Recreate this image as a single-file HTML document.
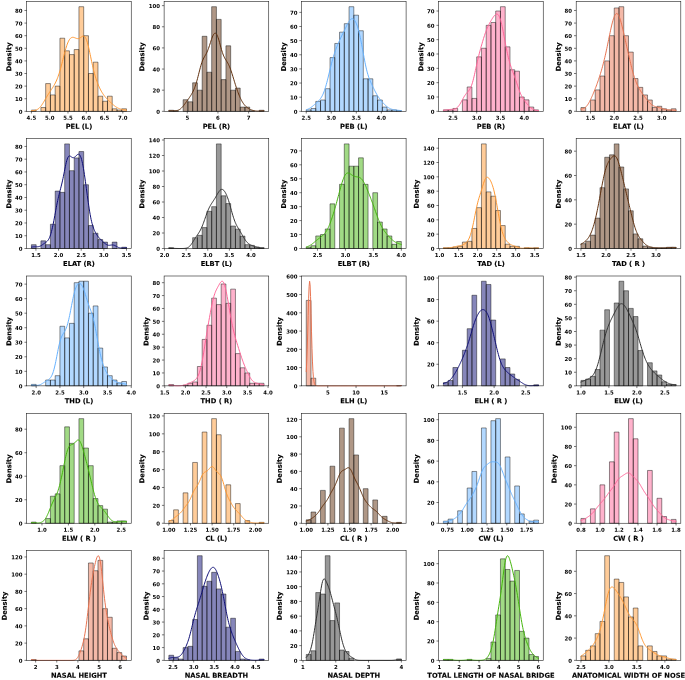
<!DOCTYPE html>
<html lang="en"><head><meta charset="utf-8"><title>Distribution plots</title>
<style>html,body{margin:0;padding:0;background:#fff}body{width:685px;height:680px;overflow:hidden}</style></head>
<body>
<svg width="685" height="680" viewBox="0 0 685 680" style="display:block" text-rendering="geometricPrecision">
<rect x="0" y="0" width="685" height="680" fill="#fff"/>
<g>
<path d="M31.40 111.32H36.16V110.06H31.40ZM40.91 111.32H45.67V107.54H40.91ZM45.67 111.32H50.42V83.59H45.67ZM50.42 111.32H55.18V94.93H50.42ZM55.18 111.32H59.93V86.11H55.18ZM59.93 111.32H64.69V38.21H59.93ZM64.69 111.32H69.44V50.82H64.69ZM69.44 111.32H74.20V54.60H69.44ZM74.20 111.32H78.95V49.56H74.20ZM78.95 111.32H83.70V6.70H78.95ZM83.70 111.32H88.46V35.69H83.70ZM88.46 111.32H93.21V73.51H88.46ZM93.21 111.32H97.97V62.16H93.21ZM97.97 111.32H102.72V96.19H97.97ZM102.72 111.32H107.48V101.24H102.72ZM107.48 111.32H112.23V96.19H107.48ZM112.23 111.32H116.99V108.80H112.23ZM116.99 111.32H121.74V110.06H116.99ZM121.74 111.32H126.50V108.80H121.74Z" fill="rgb(255,153,51)" fill-opacity="0.5" stroke="#000" stroke-width="0.55" stroke-opacity="0.8"/>
<polyline points="31.40,110.68 31.88,110.66 32.36,110.63 32.84,110.60 33.32,110.56 33.79,110.51 34.27,110.45 34.75,110.37 35.23,110.26 35.71,110.14 36.18,109.98 36.66,109.79 37.14,109.56 37.62,109.29 38.09,108.98 38.57,108.62 39.05,108.22 39.53,107.76 40.01,107.26 40.48,106.71 40.96,106.11 41.44,105.47 41.92,104.78 42.39,104.07 42.87,103.32 43.35,102.54 43.83,101.74 44.31,100.93 44.78,100.11 45.26,99.28 45.74,98.46 46.22,97.64 46.70,96.83 47.17,96.03 47.65,95.25 48.13,94.48 48.61,93.73 49.08,92.99 49.56,92.27 50.04,91.55 50.52,90.84 51.00,90.13 51.47,89.42 51.95,88.70 52.43,87.97 52.91,87.22 53.39,86.44 53.86,85.64 54.34,84.81 54.82,83.94 55.30,83.02 55.77,82.06 56.25,81.04 56.73,79.96 57.21,78.81 57.69,77.60 58.16,76.31 58.64,74.95 59.12,73.50 59.60,71.98 60.08,70.38 60.55,68.70 61.03,66.95 61.51,65.15 61.99,63.30 62.46,61.41 62.94,59.50 63.42,57.58 63.90,55.68 64.38,53.82 64.85,52.00 65.33,50.24 65.81,48.57 66.29,47.00 66.76,45.53 67.24,44.18 67.72,42.94 68.20,41.84 68.68,40.87 69.15,40.02 69.63,39.30 70.11,38.70 70.59,38.22 71.07,37.85 71.54,37.58 72.02,37.40 72.50,37.32 72.98,37.31 73.45,37.36 73.93,37.47 74.41,37.62 74.89,37.80 75.37,37.99 75.84,38.18 76.32,38.35 76.80,38.50 77.28,38.60 77.76,38.64 78.23,38.62 78.71,38.53 79.19,38.38 79.67,38.16 80.14,37.88 80.62,37.56 81.10,37.22 81.58,36.88 82.06,36.57 82.53,36.31 83.01,36.14 83.49,36.09 83.97,36.18 84.45,36.44 84.92,36.89 85.40,37.55 85.88,38.42 86.36,39.52 86.83,40.83 87.31,42.34 87.79,44.05 88.27,45.92 88.75,47.93 89.22,50.05 89.70,52.26 90.18,54.53 90.66,56.81 91.14,59.10 91.61,61.36 92.09,63.58 92.57,65.73 93.05,67.81 93.52,69.80 94.00,71.71 94.48,73.52 94.96,75.24 95.44,76.86 95.91,78.40 96.39,79.86 96.87,81.24 97.35,82.55 97.82,83.79 98.30,84.97 98.78,86.09 99.26,87.15 99.74,88.17 100.21,89.14 100.69,90.06 101.17,90.94 101.65,91.78 102.13,92.58 102.60,93.34 103.08,94.07 103.56,94.76 104.04,95.42 104.51,96.04 104.99,96.64 105.47,97.21 105.95,97.76 106.43,98.29 106.90,98.80 107.38,99.30 107.86,99.78 108.34,100.25 108.82,100.72 109.29,101.17 109.77,101.63 110.25,102.08 110.73,102.52 111.20,102.97 111.68,103.40 112.16,103.84 112.64,104.26 113.12,104.68 113.59,105.09 114.07,105.49 114.55,105.87 115.03,106.24 115.51,106.59 115.98,106.92 116.46,107.23 116.94,107.51 117.42,107.78 117.89,108.02 118.37,108.25 118.85,108.45 119.33,108.63 119.81,108.80 120.28,108.95 120.76,109.09 121.24,109.21 121.72,109.33 122.19,109.43 122.67,109.53 123.15,109.62 123.63,109.72 124.11,109.80 124.58,109.89 125.06,109.98 125.54,110.06 126.02,110.15 126.50,110.24" fill="none" stroke="rgb(255,153,51)" stroke-width="1.0" stroke-linejoin="round" stroke-linecap="round"/>
<rect x="26.65" y="1.47" width="104.60" height="109.85" fill="none" stroke="#000" stroke-opacity="0.88" stroke-width="0.6"/>
<path d="M31.40 111.32v2.2M49.69 111.32v2.2M67.98 111.32v2.2M86.26 111.32v2.2M104.55 111.32v2.2M122.84 111.32v2.2M26.65 111.32h-2.2M26.65 98.72h-2.2M26.65 86.11h-2.2M26.65 73.51h-2.2M26.65 60.90h-2.2M26.65 48.30h-2.2M26.65 35.69h-2.2M26.65 23.09h-2.2M26.65 10.48h-2.2" stroke="#000" stroke-opacity="0.88" stroke-width="0.6" fill="none"/>
<g font-family="'DejaVu Sans','Liberation Sans',sans-serif" font-weight="bold" font-size="5.4" fill="#000" stroke="#000" stroke-width="0">
<text x="31.40" y="119.87" text-anchor="middle" transform="rotate(0.03 31.40 119.87)">4.5</text>
<text x="49.69" y="119.87" text-anchor="middle" transform="rotate(0.03 49.69 119.87)">5.0</text>
<text x="67.98" y="119.87" text-anchor="middle" transform="rotate(0.03 67.98 119.87)">5.5</text>
<text x="86.26" y="119.87" text-anchor="middle" transform="rotate(0.03 86.26 119.87)">6.0</text>
<text x="104.55" y="119.87" text-anchor="middle" transform="rotate(0.03 104.55 119.87)">6.5</text>
<text x="122.84" y="119.87" text-anchor="middle" transform="rotate(0.03 122.84 119.87)">7.0</text>
<text x="22.55" y="113.67" text-anchor="end" transform="rotate(0.03 22.55 113.67)">0</text>
<text x="22.55" y="101.07" text-anchor="end" transform="rotate(0.03 22.55 101.07)">10</text>
<text x="22.55" y="88.46" text-anchor="end" transform="rotate(0.03 22.55 88.46)">20</text>
<text x="22.55" y="75.86" text-anchor="end" transform="rotate(0.03 22.55 75.86)">30</text>
<text x="22.55" y="63.25" text-anchor="end" transform="rotate(0.03 22.55 63.25)">40</text>
<text x="22.55" y="50.65" text-anchor="end" transform="rotate(0.03 22.55 50.65)">50</text>
<text x="22.55" y="38.04" text-anchor="end" transform="rotate(0.03 22.55 38.04)">60</text>
<text x="22.55" y="25.44" text-anchor="end" transform="rotate(0.03 22.55 25.44)">70</text>
<text x="22.55" y="12.83" text-anchor="end" transform="rotate(0.03 22.55 12.83)">80</text>
</g>
<g font-family="'DejaVu Sans','Liberation Sans',sans-serif" font-weight="bold" font-size="6.72" fill="#000" stroke="#000" stroke-width="0.12">
<text x="78.95" y="128.72" text-anchor="middle" transform="rotate(0.03 78.95 128.72)">PEL (L)</text>
<text transform="translate(11.15,56.89) rotate(-89.97)" text-anchor="middle">Density</text>
</g>
</g>
<g>
<path d="M168.87 111.32H173.63V110.26H168.87ZM173.63 111.32H178.38V110.79H173.63ZM183.14 111.32H187.89V99.70H183.14ZM187.89 111.32H192.65V101.81H187.89ZM192.65 111.32H197.40V82.79H192.65ZM197.40 111.32H202.16V90.18H197.40ZM202.16 111.32H206.91V36.29H202.16ZM206.91 111.32H211.67V72.22H206.91ZM211.67 111.32H216.42V6.70H211.67ZM216.42 111.32H221.17V19.38H216.42ZM221.17 111.32H225.93V79.62H221.17ZM225.93 111.32H230.68V45.80H225.93ZM230.68 111.32H235.44V90.18H230.68ZM235.44 111.32H240.19V88.07H235.44ZM240.19 111.32H244.95V107.09H240.19ZM244.95 111.32H249.70V107.09H244.95ZM249.70 111.32H254.46V110.79H249.70ZM259.21 111.32H263.97V110.26H259.21Z" fill="rgb(96,48,14)" fill-opacity="0.5" stroke="#000" stroke-width="0.55" stroke-opacity="0.8"/>
<polyline points="168.87,110.76 169.35,110.75 169.83,110.76 170.31,110.76 170.79,110.78 171.26,110.79 171.74,110.81 172.22,110.83 172.70,110.84 173.18,110.85 173.65,110.86 174.13,110.85 174.61,110.84 175.09,110.82 175.56,110.78 176.04,110.72 176.52,110.65 177.00,110.55 177.48,110.42 177.95,110.27 178.43,110.08 178.91,109.86 179.39,109.60 179.86,109.30 180.34,108.96 180.82,108.58 181.30,108.15 181.78,107.68 182.25,107.18 182.73,106.64 183.21,106.07 183.69,105.47 184.17,104.86 184.64,104.22 185.12,103.58 185.60,102.92 186.08,102.26 186.55,101.59 187.03,100.92 187.51,100.25 187.99,99.57 188.47,98.90 188.94,98.21 189.42,97.52 189.90,96.81 190.38,96.08 190.86,95.33 191.33,94.55 191.81,93.73 192.29,92.87 192.77,91.96 193.24,90.98 193.72,89.94 194.20,88.82 194.68,87.62 195.16,86.32 195.63,84.93 196.11,83.44 196.59,81.85 197.07,80.17 197.55,78.42 198.02,76.59 198.50,74.73 198.98,72.84 199.46,70.95 199.93,69.10 200.41,67.31 200.89,65.61 201.37,64.02 201.85,62.56 202.32,61.23 202.80,60.04 203.28,58.97 203.76,58.01 204.23,57.13 204.71,56.31 205.19,55.51 205.67,54.71 206.15,53.86 206.62,52.94 207.10,51.94 207.58,50.85 208.06,49.65 208.54,48.36 209.01,46.98 209.49,45.54 209.97,44.06 210.45,42.56 210.92,41.08 211.40,39.64 211.88,38.28 212.36,37.02 212.84,35.90 213.31,34.95 213.79,34.17 214.27,33.61 214.75,33.27 215.23,33.17 215.70,33.31 216.18,33.71 216.66,34.35 217.14,35.24 217.61,36.34 218.09,37.65 218.57,39.12 219.05,40.73 219.53,42.43 220.00,44.19 220.48,45.96 220.96,47.71 221.44,49.40 221.92,51.00 222.39,52.50 222.87,53.87 223.35,55.11 223.83,56.24 224.30,57.24 224.78,58.15 225.26,58.99 225.74,59.77 226.22,60.52 226.69,61.27 227.17,62.03 227.65,62.84 228.13,63.71 228.61,64.64 229.08,65.66 229.56,66.77 230.04,67.95 230.52,69.22 230.99,70.57 231.47,71.98 231.95,73.45 232.43,74.97 232.91,76.51 233.38,78.08 233.86,79.66 234.34,81.23 234.82,82.79 235.29,84.32 235.77,85.83 236.25,87.30 236.73,88.74 237.21,90.13 237.68,91.47 238.16,92.76 238.64,94.01 239.12,95.20 239.60,96.34 240.07,97.43 240.55,98.46 241.03,99.44 241.51,100.37 241.98,101.24 242.46,102.05 242.94,102.82 243.42,103.53 243.90,104.19 244.37,104.80 244.85,105.37 245.33,105.89 245.81,106.37 246.29,106.81 246.76,107.22 247.24,107.60 247.72,107.94 248.20,108.27 248.67,108.56 249.15,108.84 249.63,109.10 250.11,109.34 250.59,109.56 251.06,109.76 251.54,109.95 252.02,110.12 252.50,110.28 252.98,110.42 253.45,110.54 253.93,110.65 254.41,110.75 254.89,110.83 255.36,110.90 255.84,110.96 256.32,111.00 256.80,111.03 257.28,111.05 257.75,111.06 258.23,111.06 258.71,111.04 259.19,111.03 259.66,111.00 260.14,110.97 260.62,110.94 261.10,110.91 261.58,110.88 262.05,110.85 262.53,110.82 263.01,110.80 263.49,110.79 263.97,110.79" fill="none" stroke="rgb(96,48,14)" stroke-width="1.0" stroke-linejoin="round" stroke-linecap="round"/>
<rect x="164.12" y="1.47" width="104.60" height="109.85" fill="none" stroke="#000" stroke-opacity="0.88" stroke-width="0.6"/>
<path d="M187.28 111.32v2.2M217.95 111.32v2.2M248.63 111.32v2.2M164.12 111.32h-2.2M164.12 90.18h-2.2M164.12 69.05h-2.2M164.12 47.91h-2.2M164.12 26.78h-2.2M164.12 5.64h-2.2" stroke="#000" stroke-opacity="0.88" stroke-width="0.6" fill="none"/>
<g font-family="'DejaVu Sans','Liberation Sans',sans-serif" font-weight="bold" font-size="5.4" fill="#000" stroke="#000" stroke-width="0">
<text x="187.28" y="119.87" text-anchor="middle" transform="rotate(0.03 187.28 119.87)">5</text>
<text x="217.95" y="119.87" text-anchor="middle" transform="rotate(0.03 217.95 119.87)">6</text>
<text x="248.63" y="119.87" text-anchor="middle" transform="rotate(0.03 248.63 119.87)">7</text>
<text x="160.02" y="113.67" text-anchor="end" transform="rotate(0.03 160.02 113.67)">0</text>
<text x="160.02" y="92.53" text-anchor="end" transform="rotate(0.03 160.02 92.53)">20</text>
<text x="160.02" y="71.40" text-anchor="end" transform="rotate(0.03 160.02 71.40)">40</text>
<text x="160.02" y="50.26" text-anchor="end" transform="rotate(0.03 160.02 50.26)">60</text>
<text x="160.02" y="29.13" text-anchor="end" transform="rotate(0.03 160.02 29.13)">80</text>
<text x="160.02" y="7.99" text-anchor="end" transform="rotate(0.03 160.02 7.99)">100</text>
</g>
<g font-family="'DejaVu Sans','Liberation Sans',sans-serif" font-weight="bold" font-size="6.72" fill="#000" stroke="#000" stroke-width="0.12">
<text x="216.42" y="128.72" text-anchor="middle" transform="rotate(0.03 216.42 128.72)">PEL (R)</text>
<text transform="translate(144.32,56.89) rotate(-89.97)" text-anchor="middle">Density</text>
</g>
</g>
<g>
<path d="M306.25 111.32H311.01V109.91H306.25ZM311.01 111.32H315.76V108.49H311.01ZM315.76 111.32H320.52V101.42H315.76ZM320.52 111.32H325.27V100.01H320.52ZM325.27 111.32H330.03V88.70H325.27ZM330.03 111.32H334.78V57.60H330.03ZM334.78 111.32H339.54V43.46H334.78ZM339.54 111.32H344.29V32.15H339.54ZM344.29 111.32H349.05V23.67H344.29ZM349.05 111.32H353.80V6.70H349.05ZM353.80 111.32H358.55V15.18H353.80ZM358.55 111.32H363.31V30.74H358.55ZM363.31 111.32H368.06V78.80H363.31ZM368.06 111.32H372.82V78.80H368.06ZM372.82 111.32H377.57V95.77H372.82ZM377.57 111.32H382.33V100.01H377.57ZM382.33 111.32H387.08V107.08H382.33ZM387.08 111.32H391.84V109.91H387.08ZM391.84 111.32H396.59V109.91H391.84ZM396.59 111.32H401.35V110.61H396.59Z" fill="rgb(102,178,255)" fill-opacity="0.5" stroke="#000" stroke-width="0.55" stroke-opacity="0.8"/>
<polyline points="306.25,109.79 306.73,109.62 307.21,109.44 307.69,109.25 308.17,109.04 308.64,108.81 309.12,108.57 309.60,108.30 310.08,108.01 310.56,107.71 311.03,107.38 311.51,107.04 311.99,106.68 312.47,106.30 312.94,105.91 313.42,105.51 313.90,105.10 314.38,104.69 314.86,104.27 315.33,103.86 315.81,103.44 316.29,103.02 316.77,102.59 317.24,102.16 317.72,101.71 318.20,101.26 318.68,100.78 319.16,100.27 319.63,99.72 320.11,99.13 320.59,98.49 321.07,97.78 321.55,97.01 322.02,96.17 322.50,95.24 322.98,94.22 323.46,93.10 323.93,91.89 324.41,90.59 324.89,89.18 325.37,87.68 325.85,86.08 326.32,84.39 326.80,82.63 327.28,80.79 327.76,78.90 328.24,76.96 328.71,74.99 329.19,73.01 329.67,71.02 330.15,69.05 330.62,67.10 331.10,65.18 331.58,63.32 332.06,61.50 332.54,59.75 333.01,58.06 333.49,56.43 333.97,54.87 334.45,53.37 334.93,51.93 335.40,50.55 335.88,49.23 336.36,47.95 336.84,46.72 337.31,45.54 337.79,44.39 338.27,43.27 338.75,42.18 339.23,41.12 339.70,40.08 340.18,39.07 340.66,38.06 341.14,37.07 341.61,36.09 342.09,35.12 342.57,34.15 343.05,33.17 343.53,32.20 344.00,31.22 344.48,30.24 344.96,29.25 345.44,28.26 345.92,27.27 346.39,26.29 346.87,25.32 347.35,24.37 347.83,23.46 348.30,22.59 348.78,21.78 349.26,21.04 349.74,20.38 350.22,19.82 350.69,19.35 351.17,19.01 351.65,18.78 352.13,18.68 352.61,18.71 353.08,18.88 353.56,19.18 354.04,19.61 354.52,20.18 354.99,20.88 355.47,21.72 355.95,22.69 356.43,23.79 356.91,25.02 357.38,26.39 357.86,27.89 358.34,29.53 358.82,31.31 359.30,33.22 359.77,35.27 360.25,37.44 360.73,39.73 361.21,42.12 361.68,44.60 362.16,47.16 362.64,49.75 363.12,52.37 363.60,54.99 364.07,57.57 364.55,60.10 365.03,62.54 365.51,64.88 365.99,67.09 366.46,69.17 366.94,71.11 367.42,72.90 367.90,74.56 368.37,76.09 368.85,77.50 369.33,78.80 369.81,80.02 370.29,81.16 370.76,82.25 371.24,83.30 371.72,84.33 372.20,85.33 372.67,86.33 373.15,87.32 373.63,88.29 374.11,89.26 374.59,90.22 375.06,91.17 375.54,92.09 376.02,92.99 376.50,93.86 376.98,94.70 377.45,95.50 377.93,96.27 378.41,97.01 378.89,97.71 379.36,98.39 379.84,99.04 380.32,99.66 380.80,100.26 381.28,100.84 381.75,101.41 382.23,101.96 382.71,102.50 383.19,103.02 383.67,103.54 384.14,104.04 384.62,104.52 385.10,104.99 385.58,105.44 386.05,105.87 386.53,106.28 387.01,106.67 387.49,107.04 387.97,107.38 388.44,107.70 388.92,107.99 389.40,108.26 389.88,108.50 390.36,108.72 390.83,108.92 391.31,109.09 391.79,109.25 392.27,109.39 392.74,109.51 393.22,109.62 393.70,109.71 394.18,109.80 394.66,109.87 395.13,109.94 395.61,110.00 396.09,110.06 396.57,110.12 397.04,110.17 397.52,110.22 398.00,110.27 398.48,110.33 398.96,110.38 399.43,110.43 399.91,110.48 400.39,110.54 400.87,110.59 401.35,110.65" fill="none" stroke="rgb(102,178,255)" stroke-width="1.0" stroke-linejoin="round" stroke-linecap="round"/>
<rect x="301.50" y="1.47" width="104.60" height="109.85" fill="none" stroke="#000" stroke-opacity="0.88" stroke-width="0.6"/>
<path d="M306.25 111.32v2.2M331.28 111.32v2.2M356.30 111.32v2.2M381.33 111.32v2.2M301.50 111.32h-2.2M301.50 97.18h-2.2M301.50 83.04h-2.2M301.50 68.91h-2.2M301.50 54.77h-2.2M301.50 40.63h-2.2M301.50 26.49h-2.2M301.50 12.36h-2.2" stroke="#000" stroke-opacity="0.88" stroke-width="0.6" fill="none"/>
<g font-family="'DejaVu Sans','Liberation Sans',sans-serif" font-weight="bold" font-size="5.4" fill="#000" stroke="#000" stroke-width="0">
<text x="306.25" y="119.87" text-anchor="middle" transform="rotate(0.03 306.25 119.87)">2.5</text>
<text x="331.28" y="119.87" text-anchor="middle" transform="rotate(0.03 331.28 119.87)">3.0</text>
<text x="356.30" y="119.87" text-anchor="middle" transform="rotate(0.03 356.30 119.87)">3.5</text>
<text x="381.33" y="119.87" text-anchor="middle" transform="rotate(0.03 381.33 119.87)">4.0</text>
<text x="297.40" y="113.67" text-anchor="end" transform="rotate(0.03 297.40 113.67)">0</text>
<text x="297.40" y="99.53" text-anchor="end" transform="rotate(0.03 297.40 99.53)">10</text>
<text x="297.40" y="85.39" text-anchor="end" transform="rotate(0.03 297.40 85.39)">20</text>
<text x="297.40" y="71.26" text-anchor="end" transform="rotate(0.03 297.40 71.26)">30</text>
<text x="297.40" y="57.12" text-anchor="end" transform="rotate(0.03 297.40 57.12)">40</text>
<text x="297.40" y="42.98" text-anchor="end" transform="rotate(0.03 297.40 42.98)">50</text>
<text x="297.40" y="28.84" text-anchor="end" transform="rotate(0.03 297.40 28.84)">60</text>
<text x="297.40" y="14.71" text-anchor="end" transform="rotate(0.03 297.40 14.71)">70</text>
</g>
<g font-family="'DejaVu Sans','Liberation Sans',sans-serif" font-weight="bold" font-size="6.72" fill="#000" stroke="#000" stroke-width="0.12">
<text x="353.80" y="128.72" text-anchor="middle" transform="rotate(0.03 353.80 128.72)">PEB (L)</text>
<text transform="translate(286.00,56.89) rotate(-89.97)" text-anchor="middle">Density</text>
</g>
</g>
<g>
<path d="M443.40 111.32H448.16V109.89H443.40ZM448.16 111.32H452.91V109.89H448.16ZM452.91 111.32H457.67V108.45H452.91ZM462.42 111.32H467.18V99.85H462.42ZM467.18 111.32H471.93V86.96H467.18ZM471.93 111.32H476.69V98.42H471.93ZM476.69 111.32H481.44V56.86H476.69ZM481.44 111.32H486.20V48.26H481.44ZM486.20 111.32H490.95V25.33H486.20ZM490.95 111.32H495.70V22.47H490.95ZM495.70 111.32H500.46V11.00H495.70ZM500.46 111.32H505.21V6.70H500.46ZM505.21 111.32H509.97V46.83H505.21ZM509.97 111.32H514.72V69.76H509.97ZM514.72 111.32H519.48V71.19H514.72ZM519.48 111.32H524.23V96.99H519.48ZM524.23 111.32H528.99V99.85H524.23ZM528.99 111.32H533.74V107.02H528.99ZM533.74 111.32H538.50V109.89H533.74Z" fill="rgb(255,102,153)" fill-opacity="0.5" stroke="#000" stroke-width="0.55" stroke-opacity="0.8"/>
<polyline points="443.40,110.23 443.88,110.16 444.36,110.09 444.84,110.03 445.32,109.96 445.79,109.90 446.27,109.84 446.75,109.79 447.23,109.73 447.71,109.68 448.18,109.63 448.66,109.58 449.14,109.53 449.62,109.49 450.09,109.44 450.57,109.41 451.05,109.37 451.53,109.34 452.01,109.30 452.48,109.27 452.96,109.22 453.44,109.16 453.92,109.09 454.39,108.99 454.87,108.86 455.35,108.69 455.83,108.47 456.31,108.21 456.78,107.88 457.26,107.50 457.74,107.05 458.22,106.53 458.70,105.94 459.17,105.30 459.65,104.59 460.13,103.83 460.61,103.02 461.08,102.17 461.56,101.30 462.04,100.42 462.52,99.53 463.00,98.65 463.47,97.79 463.95,96.96 464.43,96.17 464.91,95.42 465.39,94.72 465.86,94.08 466.34,93.48 466.82,92.91 467.30,92.38 467.77,91.85 468.25,91.31 468.73,90.74 469.21,90.10 469.69,89.39 470.16,88.57 470.64,87.63 471.12,86.54 471.60,85.29 472.08,83.89 472.55,82.32 473.03,80.61 473.51,78.75 473.99,76.78 474.46,74.72 474.94,72.58 475.42,70.40 475.90,68.21 476.38,66.02 476.85,63.85 477.33,61.73 477.81,59.65 478.29,57.63 478.76,55.68 479.24,53.78 479.72,51.93 480.20,50.13 480.68,48.38 481.15,46.66 481.63,44.97 482.11,43.31 482.59,41.68 483.07,40.08 483.54,38.51 484.02,36.98 484.50,35.50 484.98,34.06 485.45,32.68 485.93,31.36 486.41,30.10 486.89,28.91 487.37,27.78 487.84,26.71 488.32,25.69 488.80,24.73 489.28,23.80 489.76,22.92 490.23,22.06 490.71,21.22 491.19,20.41 491.67,19.61 492.14,18.83 492.62,18.08 493.10,17.35 493.58,16.66 494.06,16.02 494.53,15.44 495.01,14.93 495.49,14.51 495.97,14.20 496.45,14.02 496.92,13.99 497.40,14.12 497.88,14.44 498.36,14.95 498.83,15.66 499.31,16.60 499.79,17.75 500.27,19.12 500.75,20.71 501.22,22.50 501.70,24.48 502.18,26.63 502.66,28.92 503.14,31.33 503.61,33.82 504.09,36.38 504.57,38.96 505.05,41.54 505.52,44.10 506.00,46.60 506.48,49.03 506.96,51.37 507.44,53.60 507.91,55.73 508.39,57.74 508.87,59.62 509.35,61.40 509.82,63.06 510.30,64.62 510.78,66.10 511.26,67.51 511.74,68.86 512.21,70.17 512.69,71.46 513.17,72.75 513.65,74.05 514.13,75.36 514.60,76.71 515.08,78.08 515.56,79.48 516.04,80.91 516.51,82.35 516.99,83.81 517.47,85.25 517.95,86.69 518.43,88.09 518.90,89.44 519.38,90.75 519.86,91.99 520.34,93.16 520.82,94.27 521.29,95.30 521.77,96.26 522.25,97.15 522.73,97.99 523.20,98.77 523.68,99.51 524.16,100.21 524.64,100.88 525.12,101.52 525.59,102.14 526.07,102.74 526.55,103.33 527.03,103.90 527.51,104.46 527.98,105.01 528.46,105.53 528.94,106.04 529.42,106.52 529.89,106.98 530.37,107.42 530.85,107.82 531.33,108.20 531.81,108.54 532.28,108.85 532.76,109.13 533.24,109.37 533.72,109.58 534.19,109.77 534.67,109.92 535.15,110.05 535.63,110.15 536.11,110.24 536.58,110.31 537.06,110.37 537.54,110.42 538.02,110.47 538.50,110.51" fill="none" stroke="rgb(255,102,153)" stroke-width="1.0" stroke-linejoin="round" stroke-linecap="round"/>
<rect x="438.65" y="1.47" width="104.60" height="109.85" fill="none" stroke="#000" stroke-opacity="0.88" stroke-width="0.6"/>
<path d="M452.91 111.32v2.2M476.69 111.32v2.2M500.46 111.32v2.2M524.23 111.32v2.2M438.65 111.32h-2.2M438.65 96.99h-2.2M438.65 82.66h-2.2M438.65 68.33h-2.2M438.65 53.99h-2.2M438.65 39.66h-2.2M438.65 25.33h-2.2M438.65 11.00h-2.2" stroke="#000" stroke-opacity="0.88" stroke-width="0.6" fill="none"/>
<g font-family="'DejaVu Sans','Liberation Sans',sans-serif" font-weight="bold" font-size="5.4" fill="#000" stroke="#000" stroke-width="0">
<text x="452.91" y="119.87" text-anchor="middle" transform="rotate(0.03 452.91 119.87)">2.5</text>
<text x="476.69" y="119.87" text-anchor="middle" transform="rotate(0.03 476.69 119.87)">3.0</text>
<text x="500.46" y="119.87" text-anchor="middle" transform="rotate(0.03 500.46 119.87)">3.5</text>
<text x="524.23" y="119.87" text-anchor="middle" transform="rotate(0.03 524.23 119.87)">4.0</text>
<text x="434.55" y="113.67" text-anchor="end" transform="rotate(0.03 434.55 113.67)">0</text>
<text x="434.55" y="99.34" text-anchor="end" transform="rotate(0.03 434.55 99.34)">10</text>
<text x="434.55" y="85.01" text-anchor="end" transform="rotate(0.03 434.55 85.01)">20</text>
<text x="434.55" y="70.68" text-anchor="end" transform="rotate(0.03 434.55 70.68)">30</text>
<text x="434.55" y="56.34" text-anchor="end" transform="rotate(0.03 434.55 56.34)">40</text>
<text x="434.55" y="42.01" text-anchor="end" transform="rotate(0.03 434.55 42.01)">50</text>
<text x="434.55" y="27.68" text-anchor="end" transform="rotate(0.03 434.55 27.68)">60</text>
<text x="434.55" y="13.35" text-anchor="end" transform="rotate(0.03 434.55 13.35)">70</text>
</g>
<g font-family="'DejaVu Sans','Liberation Sans',sans-serif" font-weight="bold" font-size="6.72" fill="#000" stroke="#000" stroke-width="0.12">
<text x="490.95" y="128.72" text-anchor="middle" transform="rotate(0.03 490.95 128.72)">PEB (R)</text>
<text transform="translate(423.15,56.89) rotate(-89.97)" text-anchor="middle">Density</text>
</g>
</g>
<g>
<path d="M580.95 111.32H585.71V107.54H580.95ZM590.46 111.32H595.22V99.98H590.46ZM595.22 111.32H599.97V89.89H595.22ZM599.97 111.32H604.73V76.03H599.97ZM604.73 111.32H609.48V60.90H604.73ZM609.48 111.32H614.24V35.69H609.48ZM614.24 111.32H618.99V7.96H614.24ZM618.99 111.32H623.75V6.70H618.99ZM623.75 111.32H628.50V35.69H623.75ZM628.50 111.32H633.25V52.08H628.50ZM633.25 111.32H638.01V78.55H633.25ZM638.01 111.32H642.76V87.37H638.01ZM642.76 111.32H647.52V94.93H642.76ZM647.52 111.32H652.27V99.98H647.52ZM652.27 111.32H657.03V107.54H652.27ZM657.03 111.32H661.78V106.28H657.03ZM661.78 111.32H666.54V108.80H661.78ZM666.54 111.32H671.29V110.06H666.54ZM671.29 111.32H676.05V108.80H671.29Z" fill="rgb(233,116,81)" fill-opacity="0.5" stroke="#000" stroke-width="0.55" stroke-opacity="0.8"/>
<polyline points="580.95,109.19 581.43,109.09 581.91,108.98 582.39,108.86 582.87,108.73 583.34,108.57 583.82,108.37 584.30,108.13 584.78,107.84 585.26,107.49 585.73,107.08 586.21,106.61 586.69,106.07 587.17,105.47 587.64,104.80 588.12,104.07 588.60,103.28 589.08,102.44 589.56,101.56 590.03,100.63 590.51,99.67 590.99,98.67 591.47,97.64 591.94,96.59 592.42,95.51 592.90,94.41 593.38,93.29 593.86,92.14 594.33,90.97 594.81,89.78 595.29,88.56 595.77,87.32 596.25,86.06 596.72,84.77 597.20,83.45 597.68,82.10 598.16,80.73 598.63,79.32 599.11,77.89 599.59,76.42 600.07,74.92 600.55,73.37 601.02,71.79 601.50,70.17 601.98,68.49 602.46,66.77 602.94,64.99 603.41,63.16 603.89,61.27 604.37,59.32 604.85,57.31 605.32,55.24 605.80,53.11 606.28,50.93 606.76,48.70 607.24,46.43 607.71,44.12 608.19,41.79 608.67,39.45 609.15,37.11 609.63,34.79 610.10,32.50 610.58,30.25 611.06,28.07 611.54,25.98 612.01,23.99 612.49,22.12 612.97,20.40 613.45,18.84 613.93,17.45 614.40,16.26 614.88,15.27 615.36,14.50 615.84,13.95 616.31,13.63 616.79,13.55 617.27,13.70 617.75,14.08 618.23,14.69 618.70,15.52 619.18,16.54 619.66,17.76 620.14,19.15 620.62,20.70 621.09,22.38 621.57,24.17 622.05,26.05 622.53,28.01 623.00,30.03 623.48,32.08 623.96,34.16 624.44,36.26 624.92,38.36 625.39,40.47 625.87,42.58 626.35,44.69 626.83,46.79 627.31,48.90 627.78,51.00 628.26,53.10 628.74,55.20 629.22,57.28 629.69,59.36 630.17,61.41 630.65,63.44 631.13,65.42 631.61,67.36 632.08,69.25 632.56,71.07 633.04,72.82 633.52,74.49 634.00,76.08 634.47,77.59 634.95,79.01 635.43,80.35 635.91,81.62 636.38,82.81 636.86,83.93 637.34,84.99 637.82,85.99 638.30,86.94 638.77,87.85 639.25,88.72 639.73,89.55 640.21,90.34 640.69,91.11 641.16,91.86 641.64,92.58 642.12,93.28 642.60,93.97 643.07,94.63 643.55,95.29 644.03,95.93 644.51,96.56 644.99,97.19 645.46,97.80 645.94,98.41 646.42,99.02 646.90,99.61 647.37,100.20 647.85,100.77 648.33,101.34 648.81,101.89 649.29,102.42 649.76,102.93 650.24,103.41 650.72,103.87 651.20,104.29 651.68,104.68 652.15,105.03 652.63,105.35 653.11,105.64 653.59,105.89 654.06,106.12 654.54,106.31 655.02,106.49 655.50,106.65 655.98,106.79 656.45,106.93 656.93,107.06 657.41,107.19 657.89,107.32 658.37,107.45 658.84,107.59 659.32,107.73 659.80,107.87 660.28,108.02 660.75,108.17 661.23,108.32 661.71,108.47 662.19,108.61 662.67,108.75 663.14,108.89 663.62,109.01 664.10,109.13 664.58,109.24 665.06,109.34 665.53,109.43 666.01,109.52 666.49,109.59 666.97,109.65 667.44,109.71 667.92,109.76 668.40,109.80 668.88,109.84 669.36,109.87 669.83,109.90 670.31,109.93 670.79,109.96 671.27,109.99 671.74,110.02 672.22,110.06 672.70,110.10 673.18,110.14 673.66,110.18 674.13,110.23 674.61,110.28 675.09,110.34 675.57,110.40 676.05,110.46" fill="none" stroke="rgb(233,116,81)" stroke-width="1.0" stroke-linejoin="round" stroke-linecap="round"/>
<rect x="576.20" y="1.47" width="104.60" height="109.85" fill="none" stroke="#000" stroke-opacity="0.88" stroke-width="0.6"/>
<path d="M590.46 111.32v2.2M614.24 111.32v2.2M638.01 111.32v2.2M661.78 111.32v2.2M576.20 111.32h-2.2M576.20 98.72h-2.2M576.20 86.11h-2.2M576.20 73.51h-2.2M576.20 60.90h-2.2M576.20 48.30h-2.2M576.20 35.69h-2.2M576.20 23.09h-2.2M576.20 10.48h-2.2" stroke="#000" stroke-opacity="0.88" stroke-width="0.6" fill="none"/>
<g font-family="'DejaVu Sans','Liberation Sans',sans-serif" font-weight="bold" font-size="5.4" fill="#000" stroke="#000" stroke-width="0">
<text x="590.46" y="119.87" text-anchor="middle" transform="rotate(0.03 590.46 119.87)">1.5</text>
<text x="614.24" y="119.87" text-anchor="middle" transform="rotate(0.03 614.24 119.87)">2.0</text>
<text x="638.01" y="119.87" text-anchor="middle" transform="rotate(0.03 638.01 119.87)">2.5</text>
<text x="661.78" y="119.87" text-anchor="middle" transform="rotate(0.03 661.78 119.87)">3.0</text>
<text x="572.10" y="113.67" text-anchor="end" transform="rotate(0.03 572.10 113.67)">0</text>
<text x="572.10" y="101.07" text-anchor="end" transform="rotate(0.03 572.10 101.07)">10</text>
<text x="572.10" y="88.46" text-anchor="end" transform="rotate(0.03 572.10 88.46)">20</text>
<text x="572.10" y="75.86" text-anchor="end" transform="rotate(0.03 572.10 75.86)">30</text>
<text x="572.10" y="63.25" text-anchor="end" transform="rotate(0.03 572.10 63.25)">40</text>
<text x="572.10" y="50.65" text-anchor="end" transform="rotate(0.03 572.10 50.65)">50</text>
<text x="572.10" y="38.04" text-anchor="end" transform="rotate(0.03 572.10 38.04)">60</text>
<text x="572.10" y="25.44" text-anchor="end" transform="rotate(0.03 572.10 25.44)">70</text>
<text x="572.10" y="12.83" text-anchor="end" transform="rotate(0.03 572.10 12.83)">80</text>
</g>
<g font-family="'DejaVu Sans','Liberation Sans',sans-serif" font-weight="bold" font-size="6.72" fill="#000" stroke="#000" stroke-width="0.12">
<text x="628.50" y="128.72" text-anchor="middle" transform="rotate(0.03 628.50 128.72)">ELAT (L)</text>
<text transform="translate(560.70,56.89) rotate(-89.97)" text-anchor="middle">Density</text>
</g>
</g>
<g>
<path d="M31.40 248.50H36.16V244.67H31.40ZM40.91 248.50H45.67V240.84H40.91ZM45.67 248.50H50.42V244.67H45.67ZM50.42 248.50H55.18V224.26H50.42ZM55.18 248.50H59.93V191.09H55.18ZM59.93 248.50H64.69V192.36H59.93ZM64.69 248.50H69.44V143.88H64.69ZM69.44 248.50H74.20V170.67H69.44ZM74.20 248.50H78.95V157.92H74.20ZM78.95 248.50H83.70V151.54H78.95ZM83.70 248.50H88.46V184.71H83.70ZM88.46 248.50H93.21V225.53H88.46ZM93.21 248.50H97.97V233.19H93.21ZM97.97 248.50H102.72V239.57H97.97ZM102.72 248.50H107.48V242.12H102.72ZM112.23 248.50H116.99V242.12H112.23ZM121.74 248.50H126.50V247.22H121.74Z" fill="rgb(14,14,118)" fill-opacity="0.5" stroke="#000" stroke-width="0.55" stroke-opacity="0.8"/>
<polyline points="31.40,247.13 31.88,247.04 32.36,246.96 32.84,246.90 33.32,246.85 33.79,246.81 34.27,246.78 34.75,246.76 35.23,246.76 35.71,246.76 36.18,246.77 36.66,246.77 37.14,246.77 37.62,246.75 38.09,246.70 38.57,246.64 39.05,246.53 39.53,246.39 40.01,246.21 40.48,245.99 40.96,245.74 41.44,245.44 41.92,245.13 42.39,244.79 42.87,244.44 43.35,244.09 43.83,243.75 44.31,243.41 44.78,243.08 45.26,242.75 45.74,242.42 46.22,242.07 46.70,241.68 47.17,241.24 47.65,240.72 48.13,240.11 48.61,239.37 49.08,238.50 49.56,237.47 50.04,236.26 50.52,234.89 51.00,233.33 51.47,231.59 51.95,229.68 52.43,227.61 52.91,225.39 53.39,223.04 53.86,220.59 54.34,218.07 54.82,215.49 55.30,212.89 55.77,210.29 56.25,207.74 56.73,205.25 57.21,202.85 57.69,200.56 58.16,198.38 58.64,196.30 59.12,194.33 59.60,192.43 60.08,190.58 60.55,188.75 61.03,186.89 61.51,184.98 61.99,182.99 62.46,180.88 62.94,178.67 63.42,176.36 63.90,173.96 64.38,171.52 64.85,169.08 65.33,166.70 65.81,164.45 66.29,162.39 66.76,160.57 67.24,159.03 67.72,157.80 68.20,156.90 68.68,156.30 69.15,156.00 69.63,155.94 70.11,156.07 70.59,156.33 71.07,156.67 71.54,157.02 72.02,157.33 72.50,157.57 72.98,157.70 73.45,157.70 73.93,157.58 74.41,157.34 74.89,156.99 75.37,156.56 75.84,156.08 76.32,155.59 76.80,155.13 77.28,154.72 77.76,154.42 78.23,154.25 78.71,154.26 79.19,154.47 79.67,154.91 80.14,155.62 80.62,156.60 81.10,157.87 81.58,159.45 82.06,161.32 82.53,163.48 83.01,165.92 83.49,168.61 83.97,171.52 84.45,174.64 84.92,177.93 85.40,181.34 85.88,184.85 86.36,188.42 86.83,192.01 87.31,195.58 87.79,199.09 88.27,202.50 88.75,205.79 89.22,208.92 89.70,211.87 90.18,214.62 90.66,217.16 91.14,219.49 91.61,221.60 92.09,223.51 92.57,225.23 93.05,226.77 93.52,228.15 94.00,229.40 94.48,230.52 94.96,231.55 95.44,232.48 95.91,233.34 96.39,234.14 96.87,234.88 97.35,235.58 97.82,236.24 98.30,236.85 98.78,237.44 99.26,238.00 99.74,238.53 100.21,239.04 100.69,239.52 101.17,240.00 101.65,240.46 102.13,240.92 102.60,241.37 103.08,241.81 103.56,242.25 104.04,242.68 104.51,243.09 104.99,243.49 105.47,243.87 105.95,244.21 106.43,244.52 106.90,244.78 107.38,244.99 107.86,245.14 108.34,245.24 108.82,245.29 109.29,245.30 109.77,245.26 110.25,245.20 110.73,245.13 111.20,245.06 111.68,245.00 112.16,244.97 112.64,244.97 113.12,245.01 113.59,245.11 114.07,245.24 114.55,245.42 115.03,245.64 115.51,245.88 115.98,246.14 116.46,246.41 116.94,246.68 117.42,246.93 117.89,247.17 118.37,247.38 118.85,247.57 119.33,247.72 119.81,247.85 120.28,247.94 120.76,248.00 121.24,248.04 121.72,248.05 122.19,248.05 122.67,248.03 123.15,248.00 123.63,247.97 124.11,247.93 124.58,247.90 125.06,247.87 125.54,247.84 126.02,247.83 126.50,247.82" fill="none" stroke="rgb(14,14,118)" stroke-width="1.0" stroke-linejoin="round" stroke-linecap="round"/>
<rect x="26.65" y="138.65" width="104.60" height="109.85" fill="none" stroke="#000" stroke-opacity="0.88" stroke-width="0.6"/>
<path d="M35.93 248.50v2.2M58.57 248.50v2.2M81.21 248.50v2.2M103.85 248.50v2.2M126.50 248.50v2.2M26.65 248.50h-2.2M26.65 235.74h-2.2M26.65 222.98h-2.2M26.65 210.22h-2.2M26.65 197.47h-2.2M26.65 184.71h-2.2M26.65 171.95h-2.2M26.65 159.19h-2.2M26.65 146.43h-2.2" stroke="#000" stroke-opacity="0.88" stroke-width="0.6" fill="none"/>
<g font-family="'DejaVu Sans','Liberation Sans',sans-serif" font-weight="bold" font-size="5.4" fill="#000" stroke="#000" stroke-width="0">
<text x="35.93" y="257.05" text-anchor="middle" transform="rotate(0.03 35.93 257.05)">1.5</text>
<text x="58.57" y="257.05" text-anchor="middle" transform="rotate(0.03 58.57 257.05)">2.0</text>
<text x="81.21" y="257.05" text-anchor="middle" transform="rotate(0.03 81.21 257.05)">2.5</text>
<text x="103.85" y="257.05" text-anchor="middle" transform="rotate(0.03 103.85 257.05)">3.0</text>
<text x="126.50" y="257.05" text-anchor="middle" transform="rotate(0.03 126.50 257.05)">3.5</text>
<text x="22.55" y="250.85" text-anchor="end" transform="rotate(0.03 22.55 250.85)">0</text>
<text x="22.55" y="238.09" text-anchor="end" transform="rotate(0.03 22.55 238.09)">10</text>
<text x="22.55" y="225.33" text-anchor="end" transform="rotate(0.03 22.55 225.33)">20</text>
<text x="22.55" y="212.57" text-anchor="end" transform="rotate(0.03 22.55 212.57)">30</text>
<text x="22.55" y="199.82" text-anchor="end" transform="rotate(0.03 22.55 199.82)">40</text>
<text x="22.55" y="187.06" text-anchor="end" transform="rotate(0.03 22.55 187.06)">50</text>
<text x="22.55" y="174.30" text-anchor="end" transform="rotate(0.03 22.55 174.30)">60</text>
<text x="22.55" y="161.54" text-anchor="end" transform="rotate(0.03 22.55 161.54)">70</text>
<text x="22.55" y="148.78" text-anchor="end" transform="rotate(0.03 22.55 148.78)">80</text>
</g>
<g font-family="'DejaVu Sans','Liberation Sans',sans-serif" font-weight="bold" font-size="6.72" fill="#000" stroke="#000" stroke-width="0.12">
<text x="78.95" y="265.90" text-anchor="middle" transform="rotate(0.03 78.95 265.90)">ELAT (R)</text>
<text transform="translate(11.15,194.07) rotate(-89.97)" text-anchor="middle">Density</text>
</g>
</g>
<g>
<path d="M168.87 248.50H173.63V247.73H168.87ZM192.65 248.50H197.40V237.65H192.65ZM197.40 248.50H202.16V235.33H197.40ZM202.16 248.50H206.91V227.58H202.16ZM206.91 248.50H211.67V211.30H206.91ZM211.67 248.50H216.42V206.65H211.67ZM216.42 248.50H221.17V143.88H216.42ZM221.17 248.50H225.93V195.80H221.17ZM225.93 248.50H230.68V203.55H225.93ZM230.68 248.50H235.44V226.03H230.68ZM235.44 248.50H240.19V229.13H235.44ZM240.19 248.50H244.95V236.10H240.19ZM244.95 248.50H249.70V244.63H244.95ZM249.70 248.50H254.46V245.40H249.70ZM254.46 248.50H259.21V246.95H254.46ZM259.21 248.50H263.97V247.73H259.21Z" fill="rgb(50,50,50)" fill-opacity="0.5" stroke="#000" stroke-width="0.55" stroke-opacity="0.8"/>
<polyline points="168.87,248.09 169.35,248.09 169.83,248.10 170.31,248.12 170.79,248.14 171.26,248.17 171.74,248.20 172.22,248.23 172.70,248.27 173.18,248.30 173.65,248.33 174.13,248.36 174.61,248.39 175.09,248.41 175.56,248.43 176.04,248.44 176.52,248.46 177.00,248.47 177.48,248.48 177.95,248.48 178.43,248.49 178.91,248.49 179.39,248.49 179.86,248.50 180.34,248.50 180.82,248.50 181.30,248.49 181.78,248.49 182.25,248.49 182.73,248.48 183.21,248.47 183.69,248.45 184.17,248.43 184.64,248.39 185.12,248.35 185.60,248.28 186.08,248.20 186.55,248.08 187.03,247.93 187.51,247.74 187.99,247.50 188.47,247.21 188.94,246.87 189.42,246.46 189.90,245.99 190.38,245.46 190.86,244.87 191.33,244.22 191.81,243.53 192.29,242.80 192.77,242.04 193.24,241.27 193.72,240.50 194.20,239.72 194.68,238.96 195.16,238.22 195.63,237.49 196.11,236.78 196.59,236.08 197.07,235.39 197.55,234.70 198.02,234.00 198.50,233.29 198.98,232.54 199.46,231.76 199.93,230.93 200.41,230.05 200.89,229.10 201.37,228.10 201.85,227.03 202.32,225.90 202.80,224.70 203.28,223.45 203.76,222.16 204.23,220.82 204.71,219.46 205.19,218.08 205.67,216.70 206.15,215.34 206.62,214.01 207.10,212.72 207.58,211.49 208.06,210.31 208.54,209.20 209.01,208.15 209.49,207.17 209.97,206.25 210.45,205.39 210.92,204.58 211.40,203.80 211.88,203.05 212.36,202.33 212.84,201.61 213.31,200.89 213.79,200.16 214.27,199.42 214.75,198.65 215.23,197.86 215.70,197.05 216.18,196.23 216.66,195.39 217.14,194.54 217.61,193.71 218.09,192.91 218.57,192.15 219.05,191.45 219.53,190.82 220.00,190.29 220.48,189.87 220.96,189.57 221.44,189.39 221.92,189.35 222.39,189.43 222.87,189.64 223.35,189.97 223.83,190.42 224.30,190.99 224.78,191.66 225.26,192.44 225.74,193.32 226.22,194.30 226.69,195.38 227.17,196.55 227.65,197.82 228.13,199.19 228.61,200.64 229.08,202.18 229.56,203.79 230.04,205.46 230.52,207.17 230.99,208.90 231.47,210.64 231.95,212.37 232.43,214.05 232.91,215.67 233.38,217.22 233.86,218.68 234.34,220.05 234.82,221.32 235.29,222.50 235.77,223.59 236.25,224.60 236.73,225.54 237.21,226.43 237.68,227.28 238.16,228.10 238.64,228.90 239.12,229.69 239.60,230.49 240.07,231.29 240.55,232.10 241.03,232.92 241.51,233.74 241.98,234.57 242.46,235.41 242.94,236.24 243.42,237.06 243.90,237.86 244.37,238.64 244.85,239.39 245.33,240.10 245.81,240.77 246.29,241.39 246.76,241.96 247.24,242.49 247.72,242.96 248.20,243.38 248.67,243.76 249.15,244.09 249.63,244.39 250.11,244.66 250.59,244.90 251.06,245.13 251.54,245.34 252.02,245.53 252.50,245.72 252.98,245.90 253.45,246.08 253.93,246.26 254.41,246.43 254.89,246.59 255.36,246.76 255.84,246.92 256.32,247.07 256.80,247.21 257.28,247.34 257.75,247.46 258.23,247.57 258.71,247.67 259.19,247.75 259.66,247.82 260.14,247.87 260.62,247.91 261.10,247.95 261.58,247.97 262.05,247.99 262.53,248.00 263.01,248.02 263.49,248.03 263.97,248.04" fill="none" stroke="rgb(50,50,50)" stroke-width="1.0" stroke-linejoin="round" stroke-linecap="round"/>
<rect x="164.12" y="138.65" width="104.60" height="109.85" fill="none" stroke="#000" stroke-opacity="0.88" stroke-width="0.6"/>
<path d="M164.55 248.50v2.2M186.16 248.50v2.2M207.78 248.50v2.2M229.39 248.50v2.2M251.00 248.50v2.2M164.12 248.50h-2.2M164.12 233.00h-2.2M164.12 217.50h-2.2M164.12 202.00h-2.2M164.12 186.50h-2.2M164.12 171.00h-2.2M164.12 155.51h-2.2M164.12 140.01h-2.2" stroke="#000" stroke-opacity="0.88" stroke-width="0.6" fill="none"/>
<g font-family="'DejaVu Sans','Liberation Sans',sans-serif" font-weight="bold" font-size="5.4" fill="#000" stroke="#000" stroke-width="0">
<text x="164.55" y="257.05" text-anchor="middle" transform="rotate(0.03 164.55 257.05)">2.0</text>
<text x="186.16" y="257.05" text-anchor="middle" transform="rotate(0.03 186.16 257.05)">2.5</text>
<text x="207.78" y="257.05" text-anchor="middle" transform="rotate(0.03 207.78 257.05)">3.0</text>
<text x="229.39" y="257.05" text-anchor="middle" transform="rotate(0.03 229.39 257.05)">3.5</text>
<text x="251.00" y="257.05" text-anchor="middle" transform="rotate(0.03 251.00 257.05)">4.0</text>
<text x="160.02" y="250.85" text-anchor="end" transform="rotate(0.03 160.02 250.85)">0</text>
<text x="160.02" y="235.35" text-anchor="end" transform="rotate(0.03 160.02 235.35)">20</text>
<text x="160.02" y="219.85" text-anchor="end" transform="rotate(0.03 160.02 219.85)">40</text>
<text x="160.02" y="204.35" text-anchor="end" transform="rotate(0.03 160.02 204.35)">60</text>
<text x="160.02" y="188.85" text-anchor="end" transform="rotate(0.03 160.02 188.85)">80</text>
<text x="160.02" y="173.35" text-anchor="end" transform="rotate(0.03 160.02 173.35)">100</text>
<text x="160.02" y="157.86" text-anchor="end" transform="rotate(0.03 160.02 157.86)">120</text>
<text x="160.02" y="142.36" text-anchor="end" transform="rotate(0.03 160.02 142.36)">140</text>
</g>
<g font-family="'DejaVu Sans','Liberation Sans',sans-serif" font-weight="bold" font-size="6.72" fill="#000" stroke="#000" stroke-width="0.12">
<text x="216.42" y="265.90" text-anchor="middle" transform="rotate(0.03 216.42 265.90)">ELBT (L)</text>
<text transform="translate(144.32,194.07) rotate(-89.97)" text-anchor="middle">Density</text>
</g>
</g>
<g>
<path d="M306.25 248.50H311.01V247.11H306.25ZM311.01 248.50H315.76V245.71H311.01ZM315.76 248.50H320.52V235.95H315.76ZM320.52 248.50H325.27V234.55H320.52ZM325.27 248.50H330.03V228.97H325.27ZM330.03 248.50H334.78V203.86H330.03ZM339.54 248.50H344.29V184.33H339.54ZM344.29 248.50H349.05V143.88H344.29ZM349.05 248.50H353.80V166.20H349.05ZM353.80 248.50H358.55V166.20H353.80ZM358.55 248.50H363.31V157.83H358.55ZM363.31 248.50H368.06V184.33H363.31ZM372.82 248.50H377.57V192.70H372.82ZM377.57 248.50H382.33V222.00H377.57ZM382.33 248.50H387.08V228.97H382.33ZM387.08 248.50H391.84V235.95H387.08ZM391.84 248.50H396.59V244.32H391.84ZM396.59 248.50H401.35V241.53H396.59Z" fill="rgb(68,182,12)" fill-opacity="0.5" stroke="#000" stroke-width="0.55" stroke-opacity="0.8"/>
<polyline points="306.25,247.03 306.73,246.88 307.21,246.71 307.69,246.53 308.17,246.33 308.64,246.11 309.12,245.88 309.60,245.63 310.08,245.36 310.56,245.07 311.03,244.76 311.51,244.44 311.99,244.09 312.47,243.73 312.94,243.36 313.42,242.97 313.90,242.58 314.38,242.17 314.86,241.77 315.33,241.36 315.81,240.96 316.29,240.56 316.77,240.16 317.24,239.77 317.72,239.39 318.20,239.01 318.68,238.65 319.16,238.28 319.63,237.93 320.11,237.57 320.59,237.21 321.07,236.85 321.55,236.48 322.02,236.10 322.50,235.69 322.98,235.27 323.46,234.81 323.93,234.32 324.41,233.80 324.89,233.22 325.37,232.60 325.85,231.93 326.32,231.21 326.80,230.42 327.28,229.57 327.76,228.66 328.24,227.69 328.71,226.66 329.19,225.56 329.67,224.40 330.15,223.18 330.62,221.91 331.10,220.58 331.58,219.21 332.06,217.79 332.54,216.32 333.01,214.82 333.49,213.28 333.97,211.70 334.45,210.10 334.93,208.46 335.40,206.80 335.88,205.11 336.36,203.39 336.84,201.65 337.31,199.89 337.79,198.12 338.27,196.32 338.75,194.53 339.23,192.73 339.70,190.94 340.18,189.16 340.66,187.42 341.14,185.72 341.61,184.08 342.09,182.51 342.57,181.03 343.05,179.64 343.53,178.36 344.00,177.21 344.48,176.20 344.96,175.32 345.44,174.58 345.92,173.99 346.39,173.54 346.87,173.22 347.35,173.03 347.83,172.96 348.30,172.99 348.78,173.11 349.26,173.30 349.74,173.56 350.22,173.85 350.69,174.17 351.17,174.50 351.65,174.83 352.13,175.15 352.61,175.45 353.08,175.72 353.56,175.96 354.04,176.17 354.52,176.34 354.99,176.48 355.47,176.60 355.95,176.69 356.43,176.77 356.91,176.83 357.38,176.90 357.86,176.98 358.34,177.08 358.82,177.21 359.30,177.38 359.77,177.60 360.25,177.88 360.73,178.22 361.21,178.63 361.68,179.12 362.16,179.68 362.64,180.32 363.12,181.03 363.60,181.82 364.07,182.67 364.55,183.59 365.03,184.56 365.51,185.58 365.99,186.64 366.46,187.73 366.94,188.85 367.42,189.99 367.90,191.15 368.37,192.33 368.85,193.51 369.33,194.70 369.81,195.91 370.29,197.12 370.76,198.35 371.24,199.59 371.72,200.85 372.20,202.12 372.67,203.41 373.15,204.72 373.63,206.05 374.11,207.39 374.59,208.74 375.06,210.10 375.54,211.47 376.02,212.83 376.50,214.18 376.98,215.51 377.45,216.83 377.93,218.11 378.41,219.36 378.89,220.56 379.36,221.72 379.84,222.84 380.32,223.90 380.80,224.92 381.28,225.88 381.75,226.79 382.23,227.65 382.71,228.47 383.19,229.25 383.67,229.99 384.14,230.69 384.62,231.36 385.10,232.00 385.58,232.63 386.05,233.23 386.53,233.81 387.01,234.38 387.49,234.94 387.97,235.48 388.44,236.01 388.92,236.54 389.40,237.05 389.88,237.55 390.36,238.04 390.83,238.52 391.31,238.99 391.79,239.44 392.27,239.87 392.74,240.28 393.22,240.67 393.70,241.04 394.18,241.39 394.66,241.71 395.13,242.01 395.61,242.29 396.09,242.54 396.57,242.78 397.04,242.99 397.52,243.19 398.00,243.38 398.48,243.55 398.96,243.72 399.43,243.89 399.91,244.06 400.39,244.22 400.87,244.39 401.35,244.57" fill="none" stroke="rgb(68,182,12)" stroke-width="1.0" stroke-linejoin="round" stroke-linecap="round"/>
<rect x="301.50" y="138.65" width="104.60" height="109.85" fill="none" stroke="#000" stroke-opacity="0.88" stroke-width="0.6"/>
<path d="M317.44 248.50v2.2M345.41 248.50v2.2M373.38 248.50v2.2M401.35 248.50v2.2M301.50 248.50h-2.2M301.50 234.55h-2.2M301.50 220.60h-2.2M301.50 206.65h-2.2M301.50 192.70h-2.2M301.50 178.75h-2.2M301.50 164.80h-2.2M301.50 150.86h-2.2" stroke="#000" stroke-opacity="0.88" stroke-width="0.6" fill="none"/>
<g font-family="'DejaVu Sans','Liberation Sans',sans-serif" font-weight="bold" font-size="5.4" fill="#000" stroke="#000" stroke-width="0">
<text x="317.44" y="257.05" text-anchor="middle" transform="rotate(0.03 317.44 257.05)">2.5</text>
<text x="345.41" y="257.05" text-anchor="middle" transform="rotate(0.03 345.41 257.05)">3.0</text>
<text x="373.38" y="257.05" text-anchor="middle" transform="rotate(0.03 373.38 257.05)">3.5</text>
<text x="401.35" y="257.05" text-anchor="middle" transform="rotate(0.03 401.35 257.05)">4.0</text>
<text x="297.40" y="250.85" text-anchor="end" transform="rotate(0.03 297.40 250.85)">0</text>
<text x="297.40" y="236.90" text-anchor="end" transform="rotate(0.03 297.40 236.90)">10</text>
<text x="297.40" y="222.95" text-anchor="end" transform="rotate(0.03 297.40 222.95)">20</text>
<text x="297.40" y="209.00" text-anchor="end" transform="rotate(0.03 297.40 209.00)">30</text>
<text x="297.40" y="195.05" text-anchor="end" transform="rotate(0.03 297.40 195.05)">40</text>
<text x="297.40" y="181.10" text-anchor="end" transform="rotate(0.03 297.40 181.10)">50</text>
<text x="297.40" y="167.15" text-anchor="end" transform="rotate(0.03 297.40 167.15)">60</text>
<text x="297.40" y="153.21" text-anchor="end" transform="rotate(0.03 297.40 153.21)">70</text>
</g>
<g font-family="'DejaVu Sans','Liberation Sans',sans-serif" font-weight="bold" font-size="6.72" fill="#000" stroke="#000" stroke-width="0.12">
<text x="353.80" y="265.90" text-anchor="middle" transform="rotate(0.03 353.80 265.90)">ELBT (R)</text>
<text transform="translate(286.00,194.07) rotate(-89.97)" text-anchor="middle">Density</text>
</g>
</g>
<g>
<path d="M443.40 248.50H448.16V247.78H443.40ZM448.16 248.50H452.91V247.78H448.16ZM452.91 248.50H457.67V247.07H452.91ZM457.67 248.50H462.42V246.35H457.67ZM462.42 248.50H467.18V242.05H462.42ZM467.18 248.50H471.93V241.33H467.18ZM471.93 248.50H476.69V228.44H471.93ZM476.69 248.50H481.44V207.66H476.69ZM481.44 248.50H486.20V143.88H481.44ZM486.20 248.50H490.95V191.89H486.20ZM490.95 248.50H495.70V196.19H490.95ZM495.70 248.50H500.46V210.52H495.70ZM500.46 248.50H505.21V225.57H500.46ZM505.21 248.50H509.97V244.20H505.21ZM509.97 248.50H514.72V246.35H509.97ZM514.72 248.50H519.48V246.35H514.72ZM524.23 248.50H528.99V247.78H524.23ZM528.99 248.50H533.74V248.14H528.99ZM533.74 248.50H538.50V247.78H533.74Z" fill="rgb(255,153,51)" fill-opacity="0.5" stroke="#000" stroke-width="0.55" stroke-opacity="0.8"/>
<polyline points="443.40,248.02 443.88,248.02 444.36,248.03 444.84,248.04 445.32,248.05 445.79,248.06 446.27,248.07 446.75,248.07 447.23,248.06 447.71,248.04 448.18,248.01 448.66,247.96 449.14,247.90 449.62,247.83 450.09,247.75 450.57,247.66 451.05,247.56 451.53,247.46 452.01,247.36 452.48,247.25 452.96,247.14 453.44,247.03 453.92,246.92 454.39,246.82 454.87,246.71 455.35,246.60 455.83,246.50 456.31,246.40 456.78,246.30 457.26,246.20 457.74,246.11 458.22,246.02 458.70,245.94 459.17,245.85 459.65,245.76 460.13,245.66 460.61,245.56 461.08,245.44 461.56,245.32 462.04,245.17 462.52,245.00 463.00,244.81 463.47,244.59 463.95,244.34 464.43,244.06 464.91,243.74 465.39,243.39 465.86,242.99 466.34,242.54 466.82,242.02 467.30,241.44 467.77,240.77 468.25,240.00 468.73,239.12 469.21,238.12 469.69,236.98 470.16,235.70 470.64,234.26 471.12,232.68 471.60,230.93 472.08,229.04 472.55,227.02 473.03,224.86 473.51,222.60 473.99,220.26 474.46,217.86 474.94,215.44 475.42,213.03 475.90,210.66 476.38,208.37 476.85,206.19 477.33,204.13 477.81,202.21 478.29,200.42 478.76,198.75 479.24,197.17 479.72,195.64 480.20,194.15 480.68,192.65 481.15,191.13 481.63,189.58 482.11,188.00 482.59,186.42 483.07,184.85 483.54,183.33 484.02,181.91 484.50,180.64 484.98,179.54 485.45,178.64 485.93,177.97 486.41,177.52 486.89,177.28 487.37,177.25 487.84,177.40 488.32,177.71 488.80,178.15 489.28,178.73 489.76,179.41 490.23,180.21 490.71,181.11 491.19,182.12 491.67,183.25 492.14,184.51 492.62,185.90 493.10,187.45 493.58,189.15 494.06,191.01 494.53,193.03 495.01,195.20 495.49,197.51 495.97,199.96 496.45,202.52 496.92,205.17 497.40,207.89 497.88,210.64 498.36,213.39 498.83,216.10 499.31,218.73 499.79,221.25 500.27,223.64 500.75,225.87 501.22,227.92 501.70,229.80 502.18,231.50 502.66,233.03 503.14,234.41 503.61,235.64 504.09,236.74 504.57,237.73 505.05,238.61 505.52,239.41 506.00,240.12 506.48,240.77 506.96,241.37 507.44,241.91 507.91,242.40 508.39,242.86 508.87,243.27 509.35,243.65 509.82,244.00 510.30,244.31 510.78,244.59 511.26,244.84 511.74,245.06 512.21,245.26 512.69,245.44 513.17,245.61 513.65,245.76 514.13,245.91 514.60,246.06 515.08,246.21 515.56,246.38 516.04,246.55 516.51,246.73 516.99,246.91 517.47,247.10 517.95,247.29 518.43,247.47 518.90,247.64 519.38,247.80 519.86,247.93 520.34,248.04 520.82,248.13 521.29,248.19 521.77,248.23 522.25,248.25 522.73,248.26 523.20,248.24 523.68,248.21 524.16,248.18 524.64,248.13 525.12,248.09 525.59,248.04 526.07,248.00 526.55,247.97 527.03,247.94 527.51,247.93 527.98,247.92 528.46,247.92 528.94,247.94 529.42,247.96 529.89,247.98 530.37,248.02 530.85,248.05 531.33,248.08 531.81,248.12 532.28,248.15 532.76,248.17 533.24,248.18 533.72,248.19 534.19,248.19 534.67,248.18 535.15,248.16 535.63,248.14 536.11,248.12 536.58,248.09 537.06,248.06 537.54,248.05 538.02,248.03 538.50,248.03" fill="none" stroke="rgb(255,153,51)" stroke-width="1.0" stroke-linejoin="round" stroke-linecap="round"/>
<rect x="438.65" y="138.65" width="104.60" height="109.85" fill="none" stroke="#000" stroke-opacity="0.88" stroke-width="0.6"/>
<path d="M439.60 248.50v2.2M458.62 248.50v2.2M477.64 248.50v2.2M496.66 248.50v2.2M515.67 248.50v2.2M534.69 248.50v2.2M438.65 248.50h-2.2M438.65 234.17h-2.2M438.65 219.84h-2.2M438.65 205.51h-2.2M438.65 191.17h-2.2M438.65 176.84h-2.2M438.65 162.51h-2.2M438.65 148.18h-2.2" stroke="#000" stroke-opacity="0.88" stroke-width="0.6" fill="none"/>
<g font-family="'DejaVu Sans','Liberation Sans',sans-serif" font-weight="bold" font-size="5.4" fill="#000" stroke="#000" stroke-width="0">
<text x="439.60" y="257.05" text-anchor="middle" transform="rotate(0.03 439.60 257.05)">1.0</text>
<text x="458.62" y="257.05" text-anchor="middle" transform="rotate(0.03 458.62 257.05)">1.5</text>
<text x="477.64" y="257.05" text-anchor="middle" transform="rotate(0.03 477.64 257.05)">2.0</text>
<text x="496.66" y="257.05" text-anchor="middle" transform="rotate(0.03 496.66 257.05)">2.5</text>
<text x="515.67" y="257.05" text-anchor="middle" transform="rotate(0.03 515.67 257.05)">3.0</text>
<text x="534.69" y="257.05" text-anchor="middle" transform="rotate(0.03 534.69 257.05)">3.5</text>
<text x="434.55" y="250.85" text-anchor="end" transform="rotate(0.03 434.55 250.85)">0</text>
<text x="434.55" y="236.52" text-anchor="end" transform="rotate(0.03 434.55 236.52)">20</text>
<text x="434.55" y="222.19" text-anchor="end" transform="rotate(0.03 434.55 222.19)">40</text>
<text x="434.55" y="207.86" text-anchor="end" transform="rotate(0.03 434.55 207.86)">60</text>
<text x="434.55" y="193.52" text-anchor="end" transform="rotate(0.03 434.55 193.52)">80</text>
<text x="434.55" y="179.19" text-anchor="end" transform="rotate(0.03 434.55 179.19)">100</text>
<text x="434.55" y="164.86" text-anchor="end" transform="rotate(0.03 434.55 164.86)">120</text>
<text x="434.55" y="150.53" text-anchor="end" transform="rotate(0.03 434.55 150.53)">140</text>
</g>
<g font-family="'DejaVu Sans','Liberation Sans',sans-serif" font-weight="bold" font-size="6.72" fill="#000" stroke="#000" stroke-width="0.12">
<text x="490.95" y="265.90" text-anchor="middle" transform="rotate(0.03 490.95 265.90)">TAD (L)</text>
<text transform="translate(418.85,194.07) rotate(-89.97)" text-anchor="middle">Density</text>
</g>
</g>
<g>
<path d="M580.95 248.50H585.71V243.63H580.95ZM585.71 248.50H590.46V241.20H585.71ZM590.46 248.50H595.22V235.12H590.46ZM595.22 248.50H599.97V218.09H595.22ZM599.97 248.50H604.73V187.67H599.97ZM604.73 248.50H609.48V157.26H604.73ZM609.48 248.50H614.24V154.83H609.48ZM614.24 248.50H618.99V143.88H614.24ZM618.99 248.50H623.75V166.99H618.99ZM623.75 248.50H628.50V188.89H623.75ZM628.50 248.50H633.25V210.79H628.50ZM633.25 248.50H638.01V233.90H633.25ZM638.01 248.50H642.76V238.77H638.01ZM642.76 248.50H647.52V246.07H642.76ZM647.52 248.50H652.27V247.28H647.52ZM652.27 248.50H657.03V247.89H652.27ZM657.03 248.50H661.78V247.89H657.03ZM661.78 248.50H666.54V247.89H661.78ZM666.54 248.50H671.29V247.28H666.54ZM671.29 248.50H676.05V247.28H671.29Z" fill="rgb(96,48,14)" fill-opacity="0.5" stroke="#000" stroke-width="0.55" stroke-opacity="0.8"/>
<polyline points="580.95,244.32 581.43,244.00 581.91,243.68 582.39,243.35 582.87,243.03 583.34,242.70 583.82,242.36 584.30,242.00 584.78,241.64 585.26,241.25 585.73,240.83 586.21,240.38 586.69,239.90 587.17,239.37 587.64,238.79 588.12,238.17 588.60,237.48 589.08,236.74 589.56,235.92 590.03,235.03 590.51,234.06 590.99,233.01 591.47,231.87 591.94,230.63 592.42,229.31 592.90,227.89 593.38,226.36 593.86,224.74 594.33,223.03 594.81,221.21 595.29,219.29 595.77,217.28 596.25,215.18 596.72,212.98 597.20,210.71 597.68,208.35 598.16,205.93 598.63,203.45 599.11,200.92 599.59,198.36 600.07,195.78 600.55,193.20 601.02,190.63 601.50,188.07 601.98,185.56 602.46,183.10 602.94,180.71 603.41,178.40 603.89,176.20 604.37,174.11 604.85,172.16 605.32,170.35 605.80,168.69 606.28,167.19 606.76,165.83 607.24,164.62 607.71,163.53 608.19,162.56 608.67,161.69 609.15,160.89 609.63,160.16 610.10,159.48 610.58,158.85 611.06,158.25 611.54,157.70 612.01,157.20 612.49,156.75 612.97,156.37 613.45,156.08 613.93,155.89 614.40,155.83 614.88,155.92 615.36,156.18 615.84,156.61 616.31,157.23 616.79,158.03 617.27,159.02 617.75,160.17 618.23,161.48 618.70,162.93 619.18,164.50 619.66,166.17 620.14,167.93 620.62,169.74 621.09,171.62 621.57,173.53 622.05,175.47 622.53,177.43 623.00,179.41 623.48,181.39 623.96,183.38 624.44,185.37 624.92,187.37 625.39,189.36 625.87,191.35 626.35,193.34 626.83,195.33 627.31,197.33 627.78,199.33 628.26,201.33 628.74,203.33 629.22,205.32 629.69,207.31 630.17,209.30 630.65,211.27 631.13,213.23 631.61,215.17 632.08,217.09 632.56,218.96 633.04,220.80 633.52,222.57 634.00,224.28 634.47,225.90 634.95,227.44 635.43,228.88 635.91,230.23 636.38,231.47 636.86,232.62 637.34,233.67 637.82,234.63 638.30,235.51 638.77,236.32 639.25,237.08 639.73,237.78 640.21,238.45 640.69,239.08 641.16,239.69 641.64,240.28 642.12,240.86 642.60,241.42 643.07,241.96 643.55,242.49 644.03,243.00 644.51,243.48 644.99,243.94 645.46,244.36 645.94,244.76 646.42,245.12 646.90,245.45 647.37,245.74 647.85,246.01 648.33,246.24 648.81,246.45 649.29,246.63 649.76,246.79 650.24,246.93 650.72,247.05 651.20,247.16 651.68,247.26 652.15,247.34 652.63,247.42 653.11,247.49 653.59,247.55 654.06,247.61 654.54,247.66 655.02,247.70 655.50,247.74 655.98,247.77 656.45,247.80 656.93,247.82 657.41,247.85 657.89,247.86 658.37,247.88 658.84,247.89 659.32,247.89 659.80,247.90 660.28,247.90 660.75,247.91 661.23,247.91 661.71,247.91 662.19,247.90 662.67,247.90 663.14,247.89 663.62,247.88 664.10,247.87 664.58,247.85 665.06,247.84 665.53,247.82 666.01,247.79 666.49,247.77 666.97,247.74 667.44,247.71 667.92,247.68 668.40,247.64 668.88,247.61 669.36,247.58 669.83,247.55 670.31,247.53 670.79,247.50 671.27,247.48 671.74,247.47 672.22,247.46 672.70,247.45 673.18,247.46 673.66,247.47 674.13,247.48 674.61,247.50 675.09,247.53 675.57,247.57 676.05,247.61" fill="none" stroke="rgb(96,48,14)" stroke-width="1.0" stroke-linejoin="round" stroke-linecap="round"/>
<rect x="576.20" y="138.65" width="104.60" height="109.85" fill="none" stroke="#000" stroke-opacity="0.88" stroke-width="0.6"/>
<path d="M580.95 248.50v2.2M605.98 248.50v2.2M631.00 248.50v2.2M656.03 248.50v2.2M576.20 248.50h-2.2M576.20 224.17h-2.2M576.20 199.84h-2.2M576.20 175.51h-2.2M576.20 151.18h-2.2" stroke="#000" stroke-opacity="0.88" stroke-width="0.6" fill="none"/>
<g font-family="'DejaVu Sans','Liberation Sans',sans-serif" font-weight="bold" font-size="5.4" fill="#000" stroke="#000" stroke-width="0">
<text x="580.95" y="257.05" text-anchor="middle" transform="rotate(0.03 580.95 257.05)">1.5</text>
<text x="605.98" y="257.05" text-anchor="middle" transform="rotate(0.03 605.98 257.05)">2.0</text>
<text x="631.00" y="257.05" text-anchor="middle" transform="rotate(0.03 631.00 257.05)">2.5</text>
<text x="656.03" y="257.05" text-anchor="middle" transform="rotate(0.03 656.03 257.05)">3.0</text>
<text x="572.10" y="250.85" text-anchor="end" transform="rotate(0.03 572.10 250.85)">0</text>
<text x="572.10" y="226.52" text-anchor="end" transform="rotate(0.03 572.10 226.52)">20</text>
<text x="572.10" y="202.19" text-anchor="end" transform="rotate(0.03 572.10 202.19)">40</text>
<text x="572.10" y="177.86" text-anchor="end" transform="rotate(0.03 572.10 177.86)">60</text>
<text x="572.10" y="153.53" text-anchor="end" transform="rotate(0.03 572.10 153.53)">80</text>
</g>
<g font-family="'DejaVu Sans','Liberation Sans',sans-serif" font-weight="bold" font-size="6.72" fill="#000" stroke="#000" stroke-width="0.12">
<text x="628.50" y="265.90" text-anchor="middle" transform="rotate(0.03 628.50 265.90)">TAD ( R )</text>
<text transform="translate(560.70,194.07) rotate(-89.97)" text-anchor="middle">Density</text>
</g>
</g>
<g>
<path d="M31.40 385.85H36.16V384.40H31.40ZM45.67 385.85H50.42V380.04H45.67ZM50.42 385.85H55.18V380.04H50.42ZM55.18 385.85H59.93V375.68H55.18ZM59.93 385.85H64.69V326.28H59.93ZM64.69 385.85H69.44V337.90H64.69ZM69.44 385.85H74.20V323.37H69.44ZM74.20 385.85H78.95V282.68H74.20ZM78.95 385.85H83.70V281.23H78.95ZM83.70 385.85H88.46V281.23H83.70ZM88.46 385.85H93.21V313.20H88.46ZM93.21 385.85H97.97V305.93H93.21ZM97.97 385.85H102.72V348.07H97.97ZM102.72 385.85H107.48V366.96H102.72ZM107.48 385.85H112.23V375.68H107.48ZM112.23 385.85H116.99V380.04H112.23ZM116.99 385.85H121.74V382.94H116.99ZM121.74 385.85H126.50V381.49H121.74Z" fill="rgb(102,178,255)" fill-opacity="0.5" stroke="#000" stroke-width="0.55" stroke-opacity="0.8"/>
<polyline points="31.40,385.14 31.88,385.14 32.36,385.16 32.84,385.18 33.32,385.20 33.79,385.24 34.27,385.27 34.75,385.30 35.23,385.33 35.71,385.35 36.18,385.36 36.66,385.36 37.14,385.34 37.62,385.30 38.09,385.24 38.57,385.15 39.05,385.03 39.53,384.89 40.01,384.72 40.48,384.52 40.96,384.29 41.44,384.04 41.92,383.77 42.39,383.48 42.87,383.18 43.35,382.87 43.83,382.56 44.31,382.25 44.78,381.94 45.26,381.64 45.74,381.35 46.22,381.06 46.70,380.77 47.17,380.49 47.65,380.19 48.13,379.89 48.61,379.55 49.08,379.18 49.56,378.75 50.04,378.26 50.52,377.68 51.00,376.99 51.47,376.19 51.95,375.24 52.43,374.14 52.91,372.87 53.39,371.42 53.86,369.79 54.34,367.97 54.82,365.98 55.30,363.83 55.77,361.55 56.25,359.17 56.73,356.71 57.21,354.24 57.69,351.78 58.16,349.38 58.64,347.09 59.12,344.94 59.60,342.96 60.08,341.17 60.55,339.58 61.03,338.18 61.51,336.96 61.99,335.91 62.46,334.99 62.94,334.17 63.42,333.41 63.90,332.67 64.38,331.92 64.85,331.10 65.33,330.20 65.81,329.19 66.29,328.03 66.76,326.72 67.24,325.24 67.72,323.59 68.20,321.78 68.68,319.80 69.15,317.67 69.63,315.42 70.11,313.06 70.59,310.63 71.07,308.15 71.54,305.66 72.02,303.20 72.50,300.79 72.98,298.47 73.45,296.27 73.93,294.22 74.41,292.34 74.89,290.63 75.37,289.10 75.84,287.77 76.32,286.63 76.80,285.68 77.28,284.90 77.76,284.29 78.23,283.85 78.71,283.56 79.19,283.43 79.67,283.44 80.14,283.60 80.62,283.91 81.10,284.36 81.58,284.95 82.06,285.70 82.53,286.59 83.01,287.62 83.49,288.79 83.97,290.08 84.45,291.47 84.92,292.95 85.40,294.48 85.88,296.05 86.36,297.63 86.83,299.20 87.31,300.74 87.79,302.22 88.27,303.65 88.75,305.02 89.22,306.33 89.70,307.61 90.18,308.88 90.66,310.15 91.14,311.47 91.61,312.85 92.09,314.33 92.57,315.93 93.05,317.67 93.52,319.56 94.00,321.61 94.48,323.80 94.96,326.14 95.44,328.60 95.91,331.15 96.39,333.76 96.87,336.41 97.35,339.07 97.82,341.70 98.30,344.29 98.78,346.80 99.26,349.23 99.74,351.55 100.21,353.76 100.69,355.85 101.17,357.81 101.65,359.66 102.13,361.38 102.60,362.99 103.08,364.49 103.56,365.88 104.04,367.18 104.51,368.38 104.99,369.49 105.47,370.52 105.95,371.48 106.43,372.37 106.90,373.20 107.38,373.97 107.86,374.69 108.34,375.36 108.82,375.98 109.29,376.57 109.77,377.11 110.25,377.62 110.73,378.10 111.20,378.55 111.68,378.98 112.16,379.38 112.64,379.75 113.12,380.10 113.59,380.42 114.07,380.73 114.55,381.01 115.03,381.28 115.51,381.52 115.98,381.74 116.46,381.95 116.94,382.13 117.42,382.30 117.89,382.45 118.37,382.59 118.85,382.72 119.33,382.83 119.81,382.94 120.28,383.04 120.76,383.13 121.24,383.22 121.72,383.31 122.19,383.41 122.67,383.50 123.15,383.59 123.63,383.69 124.11,383.79 124.58,383.90 125.06,384.01 125.54,384.12 126.02,384.24 126.50,384.35" fill="none" stroke="rgb(102,178,255)" stroke-width="1.0" stroke-linejoin="round" stroke-linecap="round"/>
<rect x="26.65" y="276.00" width="104.60" height="109.85" fill="none" stroke="#000" stroke-opacity="0.88" stroke-width="0.6"/>
<path d="M36.16 385.85v2.2M59.93 385.85v2.2M83.70 385.85v2.2M107.48 385.85v2.2M131.25 385.85v2.2M26.65 385.85h-2.2M26.65 371.32h-2.2M26.65 356.79h-2.2M26.65 342.26h-2.2M26.65 327.73h-2.2M26.65 313.20h-2.2M26.65 298.67h-2.2M26.65 284.14h-2.2" stroke="#000" stroke-opacity="0.88" stroke-width="0.6" fill="none"/>
<g font-family="'DejaVu Sans','Liberation Sans',sans-serif" font-weight="bold" font-size="5.4" fill="#000" stroke="#000" stroke-width="0">
<text x="36.16" y="394.40" text-anchor="middle" transform="rotate(0.03 36.16 394.40)">2.0</text>
<text x="59.93" y="394.40" text-anchor="middle" transform="rotate(0.03 59.93 394.40)">2.5</text>
<text x="83.70" y="394.40" text-anchor="middle" transform="rotate(0.03 83.70 394.40)">3.0</text>
<text x="107.48" y="394.40" text-anchor="middle" transform="rotate(0.03 107.48 394.40)">3.5</text>
<text x="131.25" y="394.40" text-anchor="middle" transform="rotate(0.03 131.25 394.40)">4.0</text>
<text x="22.55" y="388.20" text-anchor="end" transform="rotate(0.03 22.55 388.20)">0</text>
<text x="22.55" y="373.67" text-anchor="end" transform="rotate(0.03 22.55 373.67)">10</text>
<text x="22.55" y="359.14" text-anchor="end" transform="rotate(0.03 22.55 359.14)">20</text>
<text x="22.55" y="344.61" text-anchor="end" transform="rotate(0.03 22.55 344.61)">30</text>
<text x="22.55" y="330.08" text-anchor="end" transform="rotate(0.03 22.55 330.08)">40</text>
<text x="22.55" y="315.55" text-anchor="end" transform="rotate(0.03 22.55 315.55)">50</text>
<text x="22.55" y="301.02" text-anchor="end" transform="rotate(0.03 22.55 301.02)">60</text>
<text x="22.55" y="286.49" text-anchor="end" transform="rotate(0.03 22.55 286.49)">70</text>
</g>
<g font-family="'DejaVu Sans','Liberation Sans',sans-serif" font-weight="bold" font-size="6.72" fill="#000" stroke="#000" stroke-width="0.12">
<text x="78.95" y="403.25" text-anchor="middle" transform="rotate(0.03 78.95 403.25)">THD (L)</text>
<text transform="translate(11.15,331.43) rotate(-89.97)" text-anchor="middle">Density</text>
</g>
</g>
<g>
<path d="M168.87 385.85H173.63V384.56H168.87ZM183.14 385.85H187.89V385.21H183.14ZM187.89 385.85H192.65V383.27H187.89ZM192.65 385.85H197.40V381.98H192.65ZM197.40 385.85H202.16V366.51H197.40ZM202.16 385.85H206.91V339.42H202.16ZM206.91 385.85H211.67V325.24H206.91ZM211.67 385.85H216.42V298.15H211.67ZM216.42 385.85H221.17V304.60H216.42ZM221.17 385.85H225.93V283.97H221.17ZM225.93 385.85H230.68V303.31H225.93ZM230.68 385.85H235.44V289.13H230.68ZM235.44 385.85H240.19V353.61H235.44ZM240.19 385.85H244.95V367.79H240.19ZM244.95 385.85H249.70V372.95H244.95ZM249.70 385.85H254.46V383.27H249.70ZM254.46 385.85H259.21V383.27H254.46ZM259.21 385.85H263.97V383.27H259.21Z" fill="rgb(255,102,153)" fill-opacity="0.5" stroke="#000" stroke-width="0.55" stroke-opacity="0.8"/>
<polyline points="168.87,385.14 169.35,385.15 169.83,385.17 170.31,385.20 170.79,385.24 171.26,385.29 171.74,385.35 172.22,385.41 172.70,385.47 173.18,385.52 173.65,385.58 174.13,385.63 174.61,385.67 175.09,385.71 175.56,385.74 176.04,385.76 176.52,385.78 177.00,385.79 177.48,385.79 177.95,385.79 178.43,385.78 178.91,385.77 179.39,385.75 179.86,385.72 180.34,385.69 180.82,385.64 181.30,385.59 181.78,385.53 182.25,385.46 182.73,385.37 183.21,385.28 183.69,385.17 184.17,385.05 184.64,384.92 185.12,384.77 185.60,384.62 186.08,384.45 186.55,384.27 187.03,384.09 187.51,383.90 187.99,383.70 188.47,383.49 188.94,383.29 189.42,383.08 189.90,382.87 190.38,382.65 190.86,382.43 191.33,382.21 191.81,381.98 192.29,381.74 192.77,381.48 193.24,381.21 193.72,380.92 194.20,380.60 194.68,380.24 195.16,379.84 195.63,379.39 196.11,378.88 196.59,378.30 197.07,377.62 197.55,376.85 198.02,375.96 198.50,374.93 198.98,373.76 199.46,372.42 199.93,370.91 200.41,369.20 200.89,367.30 201.37,365.20 201.85,362.91 202.32,360.44 202.80,357.81 203.28,355.03 203.76,352.15 204.23,349.19 204.71,346.17 205.19,343.14 205.67,340.12 206.15,337.12 206.62,334.17 207.10,331.26 207.58,328.42 208.06,325.62 208.54,322.87 209.01,320.17 209.49,317.50 209.97,314.88 210.45,312.30 210.92,309.77 211.40,307.31 211.88,304.95 212.36,302.69 212.84,300.57 213.31,298.60 213.79,296.79 214.27,295.16 214.75,293.69 215.23,292.38 215.70,291.21 216.18,290.16 216.66,289.19 217.14,288.27 217.61,287.39 218.09,286.52 218.57,285.66 219.05,284.80 219.53,283.97 220.00,283.18 220.48,282.47 220.96,281.88 221.44,281.45 221.92,281.23 222.39,281.25 222.87,281.53 223.35,282.11 223.83,282.99 224.30,284.16 224.78,285.63 225.26,287.37 225.74,289.36 226.22,291.57 226.69,293.96 227.17,296.51 227.65,299.17 228.13,301.91 228.61,304.70 229.08,307.51 229.56,310.31 230.04,313.07 230.52,315.77 230.99,318.39 231.47,320.92 231.95,323.35 232.43,325.67 232.91,327.89 233.38,330.00 233.86,332.01 234.34,333.92 234.82,335.74 235.29,337.49 235.77,339.17 236.25,340.79 236.73,342.37 237.21,343.92 237.68,345.45 238.16,346.96 238.64,348.46 239.12,349.96 239.60,351.46 240.07,352.95 240.55,354.43 241.03,355.89 241.51,357.33 241.98,358.75 242.46,360.12 242.94,361.46 243.42,362.75 243.90,364.00 244.37,365.20 244.85,366.36 245.33,367.48 245.81,368.57 246.29,369.64 246.76,370.68 247.24,371.71 247.72,372.72 248.20,373.71 248.67,374.68 249.15,375.62 249.63,376.53 250.11,377.39 250.59,378.19 251.06,378.94 251.54,379.62 252.02,380.23 252.50,380.77 252.98,381.23 253.45,381.64 253.93,381.98 254.41,382.27 254.89,382.52 255.36,382.72 255.84,382.90 256.32,383.05 256.80,383.19 257.28,383.32 257.75,383.43 258.23,383.54 258.71,383.65 259.19,383.76 259.66,383.87 260.14,383.97 260.62,384.08 261.10,384.19 261.58,384.29 262.05,384.40 262.53,384.51 263.01,384.61 263.49,384.72 263.97,384.82" fill="none" stroke="rgb(255,102,153)" stroke-width="1.0" stroke-linejoin="round" stroke-linecap="round"/>
<rect x="164.12" y="276.00" width="104.60" height="109.85" fill="none" stroke="#000" stroke-opacity="0.88" stroke-width="0.6"/>
<path d="M164.74 385.85v2.2M185.41 385.85v2.2M206.08 385.85v2.2M226.76 385.85v2.2M247.43 385.85v2.2M268.10 385.85v2.2M164.12 385.85h-2.2M164.12 372.95h-2.2M164.12 360.06h-2.2M164.12 347.16h-2.2M164.12 334.26h-2.2M164.12 321.37h-2.2M164.12 308.47h-2.2M164.12 295.57h-2.2M164.12 282.68h-2.2" stroke="#000" stroke-opacity="0.88" stroke-width="0.6" fill="none"/>
<g font-family="'DejaVu Sans','Liberation Sans',sans-serif" font-weight="bold" font-size="5.4" fill="#000" stroke="#000" stroke-width="0">
<text x="164.74" y="394.40" text-anchor="middle" transform="rotate(0.03 164.74 394.40)">1.5</text>
<text x="185.41" y="394.40" text-anchor="middle" transform="rotate(0.03 185.41 394.40)">2.0</text>
<text x="206.08" y="394.40" text-anchor="middle" transform="rotate(0.03 206.08 394.40)">2.5</text>
<text x="226.76" y="394.40" text-anchor="middle" transform="rotate(0.03 226.76 394.40)">3.0</text>
<text x="247.43" y="394.40" text-anchor="middle" transform="rotate(0.03 247.43 394.40)">3.5</text>
<text x="268.10" y="394.40" text-anchor="middle" transform="rotate(0.03 268.10 394.40)">4.0</text>
<text x="160.02" y="388.20" text-anchor="end" transform="rotate(0.03 160.02 388.20)">0</text>
<text x="160.02" y="375.30" text-anchor="end" transform="rotate(0.03 160.02 375.30)">10</text>
<text x="160.02" y="362.41" text-anchor="end" transform="rotate(0.03 160.02 362.41)">20</text>
<text x="160.02" y="349.51" text-anchor="end" transform="rotate(0.03 160.02 349.51)">30</text>
<text x="160.02" y="336.61" text-anchor="end" transform="rotate(0.03 160.02 336.61)">40</text>
<text x="160.02" y="323.72" text-anchor="end" transform="rotate(0.03 160.02 323.72)">50</text>
<text x="160.02" y="310.82" text-anchor="end" transform="rotate(0.03 160.02 310.82)">60</text>
<text x="160.02" y="297.92" text-anchor="end" transform="rotate(0.03 160.02 297.92)">70</text>
<text x="160.02" y="285.03" text-anchor="end" transform="rotate(0.03 160.02 285.03)">80</text>
</g>
<g font-family="'DejaVu Sans','Liberation Sans',sans-serif" font-weight="bold" font-size="6.72" fill="#000" stroke="#000" stroke-width="0.12">
<text x="216.42" y="403.25" text-anchor="middle" transform="rotate(0.03 216.42 403.25)">THD ( R)</text>
<text transform="translate(148.62,331.43) rotate(-89.97)" text-anchor="middle">Density</text>
</g>
</g>
<g>
<path d="M306.25 385.85H311.01V300.40H306.25ZM311.01 385.85H315.76V378.18H311.01ZM396.59 385.85H401.35V385.67H396.59Z" fill="rgb(233,116,81)" fill-opacity="0.5" stroke="#000" stroke-width="0.55" stroke-opacity="0.8"/>
<polyline points="306.25,371.64 306.73,362.16 307.21,349.17 307.69,333.10 308.17,315.42 308.64,298.76 309.12,286.37 309.60,281.23 310.08,284.83 310.56,296.47 311.03,313.37 311.51,331.85 311.99,348.65 312.47,361.94 312.94,371.36 313.42,377.49 313.90,381.23 314.38,383.41 314.86,384.60 315.33,385.23 315.81,385.55 316.29,385.71 316.77,385.78 317.24,385.82 317.72,385.84 318.20,385.85 318.68,385.85 319.16,385.85 319.63,385.85 320.11,385.85 320.59,385.85 321.07,385.85 321.55,385.85 322.02,385.85 322.50,385.85 322.98,385.85 323.46,385.85 323.93,385.85 324.41,385.85 324.89,385.85 325.37,385.85 325.85,385.85 326.32,385.85 326.80,385.85 327.28,385.85 327.76,385.85 328.24,385.85 328.71,385.85 329.19,385.85 329.67,385.85 330.15,385.85 330.62,385.85 331.10,385.85 331.58,385.85 332.06,385.85 332.54,385.85 333.01,385.85 333.49,385.85 333.97,385.85 334.45,385.85 334.93,385.85 335.40,385.85 335.88,385.85 336.36,385.85 336.84,385.85 337.31,385.85 337.79,385.85 338.27,385.85 338.75,385.85 339.23,385.85 339.70,385.85 340.18,385.85 340.66,385.85 341.14,385.85 341.61,385.85 342.09,385.85 342.57,385.85 343.05,385.85 343.53,385.85 344.00,385.85 344.48,385.85 344.96,385.85 345.44,385.85 345.92,385.85 346.39,385.85 346.87,385.85 347.35,385.85 347.83,385.85 348.30,385.85 348.78,385.85 349.26,385.85 349.74,385.85 350.22,385.85 350.69,385.85 351.17,385.85 351.65,385.85 352.13,385.85 352.61,385.85 353.08,385.85 353.56,385.85 354.04,385.85 354.52,385.85 354.99,385.85 355.47,385.85 355.95,385.85 356.43,385.85 356.91,385.85 357.38,385.85 357.86,385.85 358.34,385.85 358.82,385.85 359.30,385.85 359.77,385.85 360.25,385.85 360.73,385.85 361.21,385.85 361.68,385.85 362.16,385.85 362.64,385.85 363.12,385.85 363.60,385.85 364.07,385.85 364.55,385.85 365.03,385.85 365.51,385.85 365.99,385.85 366.46,385.85 366.94,385.85 367.42,385.85 367.90,385.85 368.37,385.85 368.85,385.85 369.33,385.85 369.81,385.85 370.29,385.85 370.76,385.85 371.24,385.85 371.72,385.85 372.20,385.85 372.67,385.85 373.15,385.85 373.63,385.85 374.11,385.85 374.59,385.85 375.06,385.85 375.54,385.85 376.02,385.85 376.50,385.85 376.98,385.85 377.45,385.85 377.93,385.85 378.41,385.85 378.89,385.85 379.36,385.85 379.84,385.85 380.32,385.85 380.80,385.85 381.28,385.85 381.75,385.85 382.23,385.85 382.71,385.85 383.19,385.85 383.67,385.85 384.14,385.85 384.62,385.85 385.10,385.85 385.58,385.85 386.05,385.85 386.53,385.85 387.01,385.85 387.49,385.85 387.97,385.85 388.44,385.85 388.92,385.85 389.40,385.85 389.88,385.85 390.36,385.85 390.83,385.85 391.31,385.85 391.79,385.85 392.27,385.85 392.74,385.85 393.22,385.85 393.70,385.85 394.18,385.85 394.66,385.85 395.13,385.85 395.61,385.85 396.09,385.85 396.57,385.85 397.04,385.85 397.52,385.85 398.00,385.84 398.48,385.83 398.96,385.81 399.43,385.77 399.91,385.71 400.39,385.64 400.87,385.59 401.35,385.57" fill="none" stroke="rgb(233,116,81)" stroke-width="1.0" stroke-linejoin="round" stroke-linecap="round"/>
<rect x="301.50" y="276.00" width="104.60" height="109.85" fill="none" stroke="#000" stroke-opacity="0.88" stroke-width="0.6"/>
<path d="M327.76 385.85v2.2M356.06 385.85v2.2M384.36 385.85v2.2M301.50 385.85h-2.2M301.50 367.59h-2.2M301.50 349.33h-2.2M301.50 331.07h-2.2M301.50 312.81h-2.2M301.50 294.55h-2.2M301.50 276.29h-2.2" stroke="#000" stroke-opacity="0.88" stroke-width="0.6" fill="none"/>
<g font-family="'DejaVu Sans','Liberation Sans',sans-serif" font-weight="bold" font-size="5.4" fill="#000" stroke="#000" stroke-width="0">
<text x="327.76" y="394.40" text-anchor="middle" transform="rotate(0.03 327.76 394.40)">5</text>
<text x="356.06" y="394.40" text-anchor="middle" transform="rotate(0.03 356.06 394.40)">10</text>
<text x="384.36" y="394.40" text-anchor="middle" transform="rotate(0.03 384.36 394.40)">15</text>
<text x="297.40" y="388.20" text-anchor="end" transform="rotate(0.03 297.40 388.20)">0</text>
<text x="297.40" y="369.94" text-anchor="end" transform="rotate(0.03 297.40 369.94)">100</text>
<text x="297.40" y="351.68" text-anchor="end" transform="rotate(0.03 297.40 351.68)">200</text>
<text x="297.40" y="333.42" text-anchor="end" transform="rotate(0.03 297.40 333.42)">300</text>
<text x="297.40" y="315.16" text-anchor="end" transform="rotate(0.03 297.40 315.16)">400</text>
<text x="297.40" y="296.90" text-anchor="end" transform="rotate(0.03 297.40 296.90)">500</text>
<text x="297.40" y="278.64" text-anchor="end" transform="rotate(0.03 297.40 278.64)">600</text>
</g>
<g font-family="'DejaVu Sans','Liberation Sans',sans-serif" font-weight="bold" font-size="6.72" fill="#000" stroke="#000" stroke-width="0.12">
<text x="353.80" y="403.25" text-anchor="middle" transform="rotate(0.03 353.80 403.25)">ELH (L)</text>
<text transform="translate(281.70,331.43) rotate(-89.97)" text-anchor="middle">Density</text>
</g>
</g>
<g>
<path d="M443.40 385.85H448.16V382.61H443.40ZM448.16 385.85H452.91V380.46H448.16ZM452.91 385.85H457.67V367.51H452.91ZM462.42 385.85H467.18V350.26H462.42ZM467.18 385.85H471.93V328.69H467.18ZM471.93 385.85H476.69V295.25H471.93ZM481.44 385.85H486.20V281.23H481.44ZM486.20 385.85H490.95V284.47H486.20ZM490.95 385.85H495.70V320.06H490.95ZM500.46 385.85H505.21V358.89H500.46ZM505.21 385.85H509.97V367.51H505.21ZM509.97 385.85H514.72V373.99H509.97ZM514.72 385.85H519.48V379.38H514.72ZM533.74 385.85H538.50V384.77H533.74Z" fill="rgb(14,14,118)" fill-opacity="0.5" stroke="#000" stroke-width="0.55" stroke-opacity="0.8"/>
<polyline points="443.40,383.53 443.88,383.37 444.36,383.20 444.84,383.03 445.32,382.85 445.79,382.66 446.27,382.46 446.75,382.24 447.23,381.99 447.71,381.73 448.18,381.43 448.66,381.11 449.14,380.74 449.62,380.34 450.09,379.90 450.57,379.42 451.05,378.90 451.53,378.34 452.01,377.74 452.48,377.10 452.96,376.43 453.44,375.73 453.92,375.00 454.39,374.24 454.87,373.47 455.35,372.67 455.83,371.86 456.31,371.02 456.78,370.16 457.26,369.28 457.74,368.38 458.22,367.46 458.70,366.51 459.17,365.54 459.65,364.55 460.13,363.53 460.61,362.51 461.08,361.46 461.56,360.40 462.04,359.33 462.52,358.24 463.00,357.13 463.47,355.99 463.95,354.83 464.43,353.64 464.91,352.42 465.39,351.16 465.86,349.86 466.34,348.53 466.82,347.17 467.30,345.77 467.77,344.34 468.25,342.88 468.73,341.39 469.21,339.87 469.69,338.31 470.16,336.73 470.64,335.12 471.12,333.50 471.60,331.86 472.08,330.21 472.55,328.58 473.03,326.98 473.51,325.42 473.99,323.92 474.46,322.48 474.94,321.12 475.42,319.85 475.90,318.65 476.38,317.54 476.85,316.50 477.33,315.53 477.81,314.62 478.29,313.78 478.76,313.00 479.24,312.28 479.72,311.64 480.20,311.08 480.68,310.59 481.15,310.21 481.63,309.91 482.11,309.71 482.59,309.61 483.07,309.60 483.54,309.67 484.02,309.84 484.50,310.09 484.98,310.42 485.45,310.85 485.93,311.37 486.41,312.01 486.89,312.76 487.37,313.65 487.84,314.66 488.32,315.82 488.80,317.11 489.28,318.52 489.76,320.05 490.23,321.68 490.71,323.39 491.19,325.17 491.67,327.00 492.14,328.88 492.62,330.79 493.10,332.73 493.58,334.70 494.06,336.68 494.53,338.69 495.01,340.72 495.49,342.75 495.97,344.78 496.45,346.80 496.92,348.78 497.40,350.73 497.88,352.61 498.36,354.42 498.83,356.14 499.31,357.77 499.79,359.29 500.27,360.71 500.75,362.02 501.22,363.23 501.70,364.33 502.18,365.34 502.66,366.26 503.14,367.10 503.61,367.87 504.09,368.57 504.57,369.21 505.05,369.80 505.52,370.35 506.00,370.87 506.48,371.36 506.96,371.82 507.44,372.27 507.91,372.70 508.39,373.12 508.87,373.53 509.35,373.92 509.82,374.31 510.30,374.69 510.78,375.06 511.26,375.43 511.74,375.78 512.21,376.13 512.69,376.47 513.17,376.81 513.65,377.14 514.13,377.48 514.60,377.81 515.08,378.14 515.56,378.46 516.04,378.79 516.51,379.12 516.99,379.44 517.47,379.77 517.95,380.09 518.43,380.41 518.90,380.73 519.38,381.06 519.86,381.38 520.34,381.71 520.82,382.04 521.29,382.36 521.77,382.69 522.25,383.00 522.73,383.31 523.20,383.61 523.68,383.89 524.16,384.16 524.64,384.40 525.12,384.63 525.59,384.83 526.07,385.01 526.55,385.16 527.03,385.29 527.51,385.40 527.98,385.49 528.46,385.56 528.94,385.62 529.42,385.66 529.89,385.68 530.37,385.70 530.85,385.71 531.33,385.70 531.81,385.69 532.28,385.67 532.76,385.65 533.24,385.62 533.72,385.59 534.19,385.56 534.67,385.52 535.15,385.49 535.63,385.46 536.11,385.43 536.58,385.40 537.06,385.38 537.54,385.36 538.02,385.35 538.50,385.35" fill="none" stroke="rgb(14,14,118)" stroke-width="1.0" stroke-linejoin="round" stroke-linecap="round"/>
<rect x="438.65" y="276.00" width="104.60" height="109.85" fill="none" stroke="#000" stroke-opacity="0.88" stroke-width="0.6"/>
<path d="M462.42 385.85v2.2M494.12 385.85v2.2M525.82 385.85v2.2M438.65 385.85h-2.2M438.65 364.28h-2.2M438.65 342.71h-2.2M438.65 321.14h-2.2M438.65 299.57h-2.2M438.65 278.00h-2.2" stroke="#000" stroke-opacity="0.88" stroke-width="0.6" fill="none"/>
<g font-family="'DejaVu Sans','Liberation Sans',sans-serif" font-weight="bold" font-size="5.4" fill="#000" stroke="#000" stroke-width="0">
<text x="462.42" y="394.40" text-anchor="middle" transform="rotate(0.03 462.42 394.40)">1.5</text>
<text x="494.12" y="394.40" text-anchor="middle" transform="rotate(0.03 494.12 394.40)">2.0</text>
<text x="525.82" y="394.40" text-anchor="middle" transform="rotate(0.03 525.82 394.40)">2.5</text>
<text x="434.55" y="388.20" text-anchor="end" transform="rotate(0.03 434.55 388.20)">0</text>
<text x="434.55" y="366.63" text-anchor="end" transform="rotate(0.03 434.55 366.63)">20</text>
<text x="434.55" y="345.06" text-anchor="end" transform="rotate(0.03 434.55 345.06)">40</text>
<text x="434.55" y="323.49" text-anchor="end" transform="rotate(0.03 434.55 323.49)">60</text>
<text x="434.55" y="301.92" text-anchor="end" transform="rotate(0.03 434.55 301.92)">80</text>
<text x="434.55" y="280.35" text-anchor="end" transform="rotate(0.03 434.55 280.35)">100</text>
</g>
<g font-family="'DejaVu Sans','Liberation Sans',sans-serif" font-weight="bold" font-size="6.72" fill="#000" stroke="#000" stroke-width="0.12">
<text x="490.95" y="403.25" text-anchor="middle" transform="rotate(0.03 490.95 403.25)">ELH ( R )</text>
<text transform="translate(418.85,331.43) rotate(-89.97)" text-anchor="middle">Density</text>
</g>
</g>
<g>
<path d="M580.95 385.85H585.71V380.42H580.95ZM585.71 385.85H590.46V379.06H585.71ZM590.46 385.85H595.22V376.34H590.46ZM595.22 385.85H599.97V369.55H595.22ZM599.97 385.85H604.73V330.14H599.97ZM604.73 385.85H609.48V309.76H604.73ZM614.24 385.85H618.99V302.97H614.24ZM618.99 385.85H623.75V281.23H618.99ZM623.75 385.85H628.50V290.74H623.75ZM628.50 385.85H633.25V308.40H628.50ZM633.25 385.85H638.01V316.56H633.25ZM638.01 385.85H642.76V350.52H638.01ZM647.52 385.85H652.27V362.75H647.52ZM652.27 385.85H657.03V370.90H652.27ZM657.03 385.85H661.78V374.98H657.03ZM661.78 385.85H666.54V381.77H661.78ZM666.54 385.85H671.29V384.49H666.54ZM671.29 385.85H676.05V384.49H671.29Z" fill="rgb(50,50,50)" fill-opacity="0.5" stroke="#000" stroke-width="0.55" stroke-opacity="0.8"/>
<polyline points="580.95,382.05 581.43,381.83 581.91,381.61 582.39,381.41 582.87,381.20 583.34,381.01 583.82,380.81 584.30,380.63 584.78,380.44 585.26,380.25 585.73,380.07 586.21,379.87 586.69,379.68 587.17,379.47 587.64,379.26 588.12,379.03 588.60,378.79 589.08,378.52 589.56,378.24 590.03,377.92 590.51,377.58 590.99,377.20 591.47,376.78 591.94,376.31 592.42,375.79 592.90,375.21 593.38,374.56 593.86,373.84 594.33,373.04 594.81,372.15 595.29,371.17 595.77,370.10 596.25,368.92 596.72,367.64 597.20,366.26 597.68,364.77 598.16,363.19 598.63,361.51 599.11,359.76 599.59,357.93 600.07,356.03 600.55,354.10 601.02,352.12 601.50,350.13 601.98,348.14 602.46,346.15 602.94,344.19 603.41,342.26 603.89,340.38 604.37,338.54 604.85,336.77 605.32,335.07 605.80,333.43 606.28,331.87 606.76,330.38 607.24,328.96 607.71,327.61 608.19,326.32 608.67,325.10 609.15,323.94 609.63,322.82 610.10,321.75 610.58,320.72 611.06,319.71 611.54,318.73 612.01,317.77 612.49,316.81 612.97,315.86 613.45,314.92 613.93,313.97 614.40,313.03 614.88,312.09 615.36,311.16 615.84,310.25 616.31,309.35 616.79,308.49 617.27,307.67 617.75,306.89 618.23,306.18 618.70,305.55 619.18,304.99 619.66,304.53 620.14,304.16 620.62,303.90 621.09,303.75 621.57,303.70 622.05,303.77 622.53,303.94 623.00,304.21 623.48,304.58 623.96,305.04 624.44,305.59 624.92,306.21 625.39,306.91 625.87,307.67 626.35,308.48 626.83,309.34 627.31,310.24 627.78,311.17 628.26,312.13 628.74,313.10 629.22,314.09 629.69,315.08 630.17,316.09 630.65,317.10 631.13,318.12 631.61,319.15 632.08,320.19 632.56,321.24 633.04,322.32 633.52,323.42 634.00,324.55 634.47,325.72 634.95,326.94 635.43,328.21 635.91,329.52 636.38,330.90 636.86,332.33 637.34,333.81 637.82,335.34 638.30,336.92 638.77,338.53 639.25,340.17 639.73,341.82 640.21,343.48 640.69,345.14 641.16,346.77 641.64,348.38 642.12,349.95 642.60,351.48 643.07,352.95 643.55,354.37 644.03,355.72 644.51,357.01 644.99,358.24 645.46,359.40 645.94,360.50 646.42,361.54 646.90,362.52 647.37,363.45 647.85,364.33 648.33,365.16 648.81,365.95 649.29,366.70 649.76,367.41 650.24,368.09 650.72,368.73 651.20,369.35 651.68,369.94 652.15,370.50 652.63,371.04 653.11,371.56 653.59,372.06 654.06,372.53 654.54,373.00 655.02,373.45 655.50,373.88 655.98,374.31 656.45,374.72 656.93,375.13 657.41,375.54 657.89,375.94 658.37,376.34 658.84,376.73 659.32,377.13 659.80,377.52 660.28,377.91 660.75,378.31 661.23,378.70 661.71,379.08 662.19,379.46 662.67,379.83 663.14,380.20 663.62,380.55 664.10,380.90 664.58,381.23 665.06,381.55 665.53,381.85 666.01,382.14 666.49,382.41 666.97,382.66 667.44,382.89 667.92,383.11 668.40,383.31 668.88,383.50 669.36,383.67 669.83,383.82 670.31,383.96 670.79,384.08 671.27,384.20 671.74,384.30 672.22,384.39 672.70,384.47 673.18,384.55 673.66,384.62 674.13,384.69 674.61,384.75 675.09,384.81 675.57,384.87 676.05,384.93" fill="none" stroke="rgb(50,50,50)" stroke-width="1.0" stroke-linejoin="round" stroke-linecap="round"/>
<rect x="576.20" y="276.00" width="104.60" height="109.85" fill="none" stroke="#000" stroke-opacity="0.88" stroke-width="0.6"/>
<path d="M580.95 385.85v2.2M608.92 385.85v2.2M636.89 385.85v2.2M664.86 385.85v2.2M576.20 385.85h-2.2M576.20 372.26h-2.2M576.20 358.68h-2.2M576.20 345.09h-2.2M576.20 331.50h-2.2M576.20 317.92h-2.2M576.20 304.33h-2.2M576.20 290.74h-2.2M576.20 277.15h-2.2" stroke="#000" stroke-opacity="0.88" stroke-width="0.6" fill="none"/>
<g font-family="'DejaVu Sans','Liberation Sans',sans-serif" font-weight="bold" font-size="5.4" fill="#000" stroke="#000" stroke-width="0">
<text x="580.95" y="394.40" text-anchor="middle" transform="rotate(0.03 580.95 394.40)">1.0</text>
<text x="608.92" y="394.40" text-anchor="middle" transform="rotate(0.03 608.92 394.40)">1.5</text>
<text x="636.89" y="394.40" text-anchor="middle" transform="rotate(0.03 636.89 394.40)">2.0</text>
<text x="664.86" y="394.40" text-anchor="middle" transform="rotate(0.03 664.86 394.40)">2.5</text>
<text x="572.10" y="388.20" text-anchor="end" transform="rotate(0.03 572.10 388.20)">0</text>
<text x="572.10" y="374.61" text-anchor="end" transform="rotate(0.03 572.10 374.61)">10</text>
<text x="572.10" y="361.03" text-anchor="end" transform="rotate(0.03 572.10 361.03)">20</text>
<text x="572.10" y="347.44" text-anchor="end" transform="rotate(0.03 572.10 347.44)">30</text>
<text x="572.10" y="333.85" text-anchor="end" transform="rotate(0.03 572.10 333.85)">40</text>
<text x="572.10" y="320.27" text-anchor="end" transform="rotate(0.03 572.10 320.27)">50</text>
<text x="572.10" y="306.68" text-anchor="end" transform="rotate(0.03 572.10 306.68)">60</text>
<text x="572.10" y="293.09" text-anchor="end" transform="rotate(0.03 572.10 293.09)">70</text>
<text x="572.10" y="279.50" text-anchor="end" transform="rotate(0.03 572.10 279.50)">80</text>
</g>
<g font-family="'DejaVu Sans','Liberation Sans',sans-serif" font-weight="bold" font-size="6.72" fill="#000" stroke="#000" stroke-width="0.12">
<text x="628.50" y="403.25" text-anchor="middle" transform="rotate(0.03 628.50 403.25)">ELW (L)</text>
<text transform="translate(560.70,331.43) rotate(-89.97)" text-anchor="middle">Density</text>
</g>
</g>
<g>
<path d="M31.40 523.25H36.16V522.07H31.40ZM45.67 523.25H50.42V518.55H45.67ZM50.42 523.25H55.18V496.21H50.42ZM55.18 523.25H59.93V493.86H55.18ZM59.93 523.25H64.69V465.65H59.93ZM64.69 523.25H69.44V426.86H64.69ZM69.44 523.25H74.20V443.32H69.44ZM78.95 523.25H83.70V418.63H78.95ZM83.70 523.25H88.46V448.02H83.70ZM88.46 523.25H93.21V465.65H88.46ZM93.21 523.25H97.97V498.56H93.21ZM97.97 523.25H102.72V505.62H97.97ZM102.72 523.25H107.48V509.14H102.72ZM107.48 523.25H112.23V522.07H107.48ZM112.23 523.25H116.99V522.07H112.23ZM116.99 523.25H121.74V520.90H116.99ZM121.74 523.25H126.50V520.90H121.74Z" fill="rgb(68,182,12)" fill-opacity="0.5" stroke="#000" stroke-width="0.55" stroke-opacity="0.8"/>
<polyline points="31.40,522.67 31.88,522.68 32.36,522.69 32.84,522.71 33.32,522.74 33.79,522.77 34.27,522.80 34.75,522.84 35.23,522.88 35.71,522.91 36.18,522.94 36.66,522.96 37.14,522.98 37.62,522.98 38.09,522.97 38.57,522.94 39.05,522.89 39.53,522.82 40.01,522.73 40.48,522.61 40.96,522.45 41.44,522.26 41.92,522.03 42.39,521.76 42.87,521.43 43.35,521.05 43.83,520.61 44.31,520.11 44.78,519.53 45.26,518.89 45.74,518.16 46.22,517.36 46.70,516.49 47.17,515.54 47.65,514.51 48.13,513.43 48.61,512.29 49.08,511.12 49.56,509.91 50.04,508.70 50.52,507.49 51.00,506.31 51.47,505.15 51.95,504.03 52.43,502.96 52.91,501.94 53.39,500.95 53.86,500.00 54.34,499.07 54.82,498.15 55.30,497.21 55.77,496.24 56.25,495.22 56.73,494.13 57.21,492.95 57.69,491.68 58.16,490.29 58.64,488.78 59.12,487.14 59.60,485.39 60.08,483.51 60.55,481.52 61.03,479.42 61.51,477.23 61.99,474.96 62.46,472.63 62.94,470.26 63.42,467.86 63.90,465.47 64.38,463.09 64.85,460.77 65.33,458.53 65.81,456.40 66.29,454.41 66.76,452.58 67.24,450.94 67.72,449.51 68.20,448.29 68.68,447.28 69.15,446.48 69.63,445.86 70.11,445.41 70.59,445.08 71.07,444.85 71.54,444.67 72.02,444.50 72.50,444.33 72.98,444.11 73.45,443.83 73.93,443.49 74.41,443.08 74.89,442.61 75.37,442.10 75.84,441.58 76.32,441.07 76.80,440.62 77.28,440.27 77.76,440.03 78.23,439.96 78.71,440.07 79.19,440.38 79.67,440.90 80.14,441.62 80.62,442.55 81.10,443.66 81.58,444.92 82.06,446.33 82.53,447.85 83.01,449.45 83.49,451.13 83.97,452.84 84.45,454.60 84.92,456.37 85.40,458.16 85.88,459.96 86.36,461.77 86.83,463.59 87.31,465.43 87.79,467.30 88.27,469.19 88.75,471.11 89.22,473.07 89.70,475.06 90.18,477.08 90.66,479.12 91.14,481.17 91.61,483.22 92.09,485.25 92.57,487.25 93.05,489.18 93.52,491.05 94.00,492.82 94.48,494.50 94.96,496.07 95.44,497.52 95.91,498.86 96.39,500.08 96.87,501.19 97.35,502.20 97.82,503.11 98.30,503.94 98.78,504.68 99.26,505.37 99.74,505.99 100.21,506.57 100.69,507.12 101.17,507.64 101.65,508.15 102.13,508.65 102.60,509.16 103.08,509.67 103.56,510.19 104.04,510.74 104.51,511.31 104.99,511.91 105.47,512.54 105.95,513.19 106.43,513.86 106.90,514.54 107.38,515.24 107.86,515.93 108.34,516.62 108.82,517.28 109.29,517.92 109.77,518.51 110.25,519.06 110.73,519.56 111.20,520.01 111.68,520.40 112.16,520.73 112.64,521.01 113.12,521.24 113.59,521.43 114.07,521.57 114.55,521.67 115.03,521.74 115.51,521.78 115.98,521.80 116.46,521.80 116.94,521.78 117.42,521.75 117.89,521.71 118.37,521.67 118.85,521.62 119.33,521.57 119.81,521.52 120.28,521.48 120.76,521.44 121.24,521.40 121.72,521.37 122.19,521.35 122.67,521.34 123.15,521.34 123.63,521.34 124.11,521.36 124.58,521.39 125.06,521.44 125.54,521.49 126.02,521.55 126.50,521.63" fill="none" stroke="rgb(68,182,12)" stroke-width="1.0" stroke-linejoin="round" stroke-linecap="round"/>
<rect x="26.65" y="413.40" width="104.60" height="109.85" fill="none" stroke="#000" stroke-opacity="0.88" stroke-width="0.6"/>
<path d="M41.97 523.25v2.2M68.38 523.25v2.2M94.80 523.25v2.2M121.21 523.25v2.2M26.65 523.25h-2.2M26.65 499.74h-2.2M26.65 476.23h-2.2M26.65 452.72h-2.2M26.65 429.21h-2.2" stroke="#000" stroke-opacity="0.88" stroke-width="0.6" fill="none"/>
<g font-family="'DejaVu Sans','Liberation Sans',sans-serif" font-weight="bold" font-size="5.4" fill="#000" stroke="#000" stroke-width="0">
<text x="41.97" y="531.80" text-anchor="middle" transform="rotate(0.03 41.97 531.80)">1.0</text>
<text x="68.38" y="531.80" text-anchor="middle" transform="rotate(0.03 68.38 531.80)">1.5</text>
<text x="94.80" y="531.80" text-anchor="middle" transform="rotate(0.03 94.80 531.80)">2.0</text>
<text x="121.21" y="531.80" text-anchor="middle" transform="rotate(0.03 121.21 531.80)">2.5</text>
<text x="22.55" y="525.60" text-anchor="end" transform="rotate(0.03 22.55 525.60)">0</text>
<text x="22.55" y="502.09" text-anchor="end" transform="rotate(0.03 22.55 502.09)">20</text>
<text x="22.55" y="478.58" text-anchor="end" transform="rotate(0.03 22.55 478.58)">40</text>
<text x="22.55" y="455.07" text-anchor="end" transform="rotate(0.03 22.55 455.07)">60</text>
<text x="22.55" y="431.56" text-anchor="end" transform="rotate(0.03 22.55 431.56)">80</text>
</g>
<g font-family="'DejaVu Sans','Liberation Sans',sans-serif" font-weight="bold" font-size="6.72" fill="#000" stroke="#000" stroke-width="0.12">
<text x="78.95" y="540.65" text-anchor="middle" transform="rotate(0.03 78.95 540.65)">ELW ( R )</text>
<text transform="translate(11.15,468.82) rotate(-89.97)" text-anchor="middle">Density</text>
</g>
</g>
<g>
<path d="M168.87 523.25H173.63V520.57H168.87ZM173.63 523.25H178.38V509.84H173.63ZM183.14 523.25H187.89V492.85H183.14ZM192.65 523.25H197.40V462.45H192.65ZM202.16 523.25H206.91V432.04H202.16ZM211.67 523.25H216.42V418.63H211.67ZM216.42 523.25H221.17V434.73H216.42ZM225.93 523.25H230.68V484.80H225.93ZM235.44 523.25H240.19V503.58H235.44ZM244.95 523.25H249.70V520.57H244.95ZM259.21 523.25H263.97V522.36H259.21Z" fill="rgb(255,153,51)" fill-opacity="0.5" stroke="#000" stroke-width="0.55" stroke-opacity="0.8"/>
<polyline points="168.87,521.28 169.35,521.10 169.83,520.89 170.31,520.67 170.79,520.42 171.26,520.15 171.74,519.86 172.22,519.54 172.70,519.20 173.18,518.84 173.65,518.47 174.13,518.09 174.61,517.70 175.09,517.30 175.56,516.92 176.04,516.53 176.52,516.16 177.00,515.79 177.48,515.42 177.95,515.06 178.43,514.69 178.91,514.30 179.39,513.89 179.86,513.46 180.34,513.00 180.82,512.49 181.30,511.95 181.78,511.38 182.25,510.77 182.73,510.14 183.21,509.48 183.69,508.82 184.17,508.16 184.64,507.51 185.12,506.86 185.60,506.23 186.08,505.60 186.55,504.98 187.03,504.35 187.51,503.69 187.99,503.01 188.47,502.28 188.94,501.49 189.42,500.63 189.90,499.71 190.38,498.73 190.86,497.68 191.33,496.60 191.81,495.50 192.29,494.39 192.77,493.31 193.24,492.27 193.72,491.28 194.20,490.36 194.68,489.51 195.16,488.73 195.63,487.99 196.11,487.29 196.59,486.60 197.07,485.89 197.55,485.15 198.02,484.34 198.50,483.45 198.98,482.49 199.46,481.46 199.93,480.37 200.41,479.24 200.89,478.11 201.37,477.01 201.85,475.98 202.32,475.04 202.80,474.22 203.28,473.53 203.76,472.97 204.23,472.54 204.71,472.21 205.19,471.95 205.67,471.74 206.15,471.53 206.62,471.29 207.10,470.99 207.58,470.62 208.06,470.17 208.54,469.65 209.01,469.07 209.49,468.48 209.97,467.90 210.45,467.39 210.92,466.97 211.40,466.68 211.88,466.55 212.36,466.60 212.84,466.81 213.31,467.19 213.79,467.70 214.27,468.30 214.75,468.97 215.23,469.66 215.70,470.33 216.18,470.96 216.66,471.52 217.14,472.01 217.61,472.44 218.09,472.83 218.57,473.21 219.05,473.61 219.53,474.08 220.00,474.64 220.48,475.34 220.96,476.20 221.44,477.23 221.92,478.43 222.39,479.79 222.87,481.29 223.35,482.88 223.83,484.55 224.30,486.24 224.78,487.91 225.26,489.54 225.74,491.10 226.22,492.57 226.69,493.93 227.17,495.19 227.65,496.35 228.13,497.42 228.61,498.42 229.08,499.37 229.56,500.28 230.04,501.16 230.52,502.03 230.99,502.88 231.47,503.72 231.95,504.55 232.43,505.36 232.91,506.13 233.38,506.88 233.86,507.58 234.34,508.24 234.82,508.84 235.29,509.41 235.77,509.93 236.25,510.42 236.73,510.89 237.21,511.35 237.68,511.81 238.16,512.28 238.64,512.77 239.12,513.27 239.60,513.80 240.07,514.36 240.55,514.93 241.03,515.51 241.51,516.10 241.98,516.68 242.46,517.25 242.94,517.80 243.42,518.33 243.90,518.82 244.37,519.27 244.85,519.68 245.33,520.06 245.81,520.39 246.29,520.69 246.76,520.96 247.24,521.20 247.72,521.42 248.20,521.61 248.67,521.78 249.15,521.94 249.63,522.09 250.11,522.22 250.59,522.34 251.06,522.46 251.54,522.56 252.02,522.65 252.50,522.74 252.98,522.81 253.45,522.88 253.93,522.93 254.41,522.98 254.89,523.01 255.36,523.04 255.84,523.06 256.32,523.07 256.80,523.08 257.28,523.08 257.75,523.07 258.23,523.06 258.71,523.04 259.19,523.02 259.66,523.00 260.14,522.98 260.62,522.95 261.10,522.93 261.58,522.91 262.05,522.89 262.53,522.87 263.01,522.86 263.49,522.86 263.97,522.85" fill="none" stroke="rgb(255,153,51)" stroke-width="1.0" stroke-linejoin="round" stroke-linecap="round"/>
<rect x="164.12" y="413.40" width="104.60" height="109.85" fill="none" stroke="#000" stroke-opacity="0.88" stroke-width="0.6"/>
<path d="M168.87 523.25v2.2M190.49 523.25v2.2M212.10 523.25v2.2M233.71 523.25v2.2M255.32 523.25v2.2M164.12 523.25h-2.2M164.12 505.37h-2.2M164.12 487.48h-2.2M164.12 469.60h-2.2M164.12 451.72h-2.2M164.12 433.83h-2.2M164.12 415.95h-2.2" stroke="#000" stroke-opacity="0.88" stroke-width="0.6" fill="none"/>
<g font-family="'DejaVu Sans','Liberation Sans',sans-serif" font-weight="bold" font-size="5.4" fill="#000" stroke="#000" stroke-width="0">
<text x="168.87" y="531.80" text-anchor="middle" transform="rotate(0.03 168.87 531.80)">1.00</text>
<text x="190.49" y="531.80" text-anchor="middle" transform="rotate(0.03 190.49 531.80)">1.25</text>
<text x="212.10" y="531.80" text-anchor="middle" transform="rotate(0.03 212.10 531.80)">1.50</text>
<text x="233.71" y="531.80" text-anchor="middle" transform="rotate(0.03 233.71 531.80)">1.75</text>
<text x="255.32" y="531.80" text-anchor="middle" transform="rotate(0.03 255.32 531.80)">2.00</text>
<text x="160.02" y="525.60" text-anchor="end" transform="rotate(0.03 160.02 525.60)">0</text>
<text x="160.02" y="507.72" text-anchor="end" transform="rotate(0.03 160.02 507.72)">20</text>
<text x="160.02" y="489.83" text-anchor="end" transform="rotate(0.03 160.02 489.83)">40</text>
<text x="160.02" y="471.95" text-anchor="end" transform="rotate(0.03 160.02 471.95)">60</text>
<text x="160.02" y="454.07" text-anchor="end" transform="rotate(0.03 160.02 454.07)">80</text>
<text x="160.02" y="436.18" text-anchor="end" transform="rotate(0.03 160.02 436.18)">100</text>
<text x="160.02" y="418.30" text-anchor="end" transform="rotate(0.03 160.02 418.30)">120</text>
</g>
<g font-family="'DejaVu Sans','Liberation Sans',sans-serif" font-weight="bold" font-size="6.72" fill="#000" stroke="#000" stroke-width="0.12">
<text x="216.42" y="540.65" text-anchor="middle" transform="rotate(0.03 216.42 540.65)">CL (L)</text>
<text transform="translate(144.32,468.82) rotate(-89.97)" text-anchor="middle">Density</text>
</g>
</g>
<g>
<path d="M306.25 523.25H311.01V519.79H306.25ZM311.01 523.25H315.76V512.01H311.01ZM320.52 523.25H325.27V490.39H320.52ZM330.03 523.25H334.78V466.19H330.03ZM339.54 523.25H344.29V428.14H339.54ZM349.05 523.25H353.80V418.63H349.05ZM353.80 523.25H358.55V454.95H353.80ZM363.31 523.25H368.06V488.67H363.31ZM372.82 523.25H377.57V499.91H372.82ZM382.33 523.25H387.08V516.33H382.33ZM396.59 523.25H401.35V522.39H396.59Z" fill="rgb(96,48,14)" fill-opacity="0.5" stroke="#000" stroke-width="0.55" stroke-opacity="0.8"/>
<polyline points="306.25,521.04 306.73,520.88 307.21,520.71 307.69,520.53 308.17,520.34 308.64,520.14 309.12,519.91 309.60,519.68 310.08,519.42 310.56,519.15 311.03,518.87 311.51,518.57 311.99,518.26 312.47,517.93 312.94,517.60 313.42,517.25 313.90,516.90 314.38,516.52 314.86,516.13 315.33,515.72 315.81,515.28 316.29,514.82 316.77,514.31 317.24,513.77 317.72,513.20 318.20,512.58 318.68,511.93 319.16,511.24 319.63,510.54 320.11,509.81 320.59,509.08 321.07,508.34 321.55,507.62 322.02,506.91 322.50,506.23 322.98,505.57 323.46,504.93 323.93,504.31 324.41,503.69 324.89,503.08 325.37,502.46 325.85,501.81 326.32,501.14 326.80,500.42 327.28,499.67 327.76,498.87 328.24,498.03 328.71,497.15 329.19,496.25 329.67,495.33 330.15,494.41 330.62,493.50 331.10,492.61 331.58,491.73 332.06,490.87 332.54,490.02 333.01,489.18 333.49,488.33 333.97,487.45 334.45,486.53 334.93,485.57 335.40,484.54 335.88,483.46 336.36,482.31 336.84,481.11 337.31,479.88 337.79,478.64 338.27,477.42 338.75,476.25 339.23,475.15 339.70,474.15 340.18,473.27 340.66,472.51 341.14,471.88 341.61,471.37 342.09,470.97 342.57,470.66 343.05,470.40 343.53,470.18 344.00,469.96 344.48,469.73 344.96,469.48 345.44,469.19 345.92,468.88 346.39,468.56 346.87,468.25 347.35,467.98 347.83,467.79 348.30,467.71 348.78,467.76 349.26,467.96 349.74,468.33 350.22,468.88 350.69,469.58 351.17,470.43 351.65,471.41 352.13,472.48 352.61,473.60 353.08,474.75 353.56,475.90 354.04,477.02 354.52,478.09 354.99,479.12 355.47,480.09 355.95,481.02 356.43,481.92 356.91,482.81 357.38,483.70 357.86,484.61 358.34,485.56 358.82,486.56 359.30,487.60 359.77,488.70 360.25,489.83 360.73,490.99 361.21,492.15 361.68,493.31 362.16,494.45 362.64,495.54 363.12,496.58 363.60,497.55 364.07,498.47 364.55,499.31 365.03,500.10 365.51,500.83 365.99,501.51 366.46,502.16 366.94,502.78 367.42,503.38 367.90,503.96 368.37,504.53 368.85,505.08 369.33,505.61 369.81,506.13 370.29,506.62 370.76,507.08 371.24,507.51 371.72,507.92 372.20,508.30 372.67,508.65 373.15,508.99 373.63,509.32 374.11,509.65 374.59,509.99 375.06,510.34 375.54,510.71 376.02,511.11 376.50,511.54 376.98,512.00 377.45,512.49 377.93,513.00 378.41,513.52 378.89,514.05 379.36,514.58 379.84,515.11 380.32,515.62 380.80,516.11 381.28,516.57 381.75,517.01 382.23,517.43 382.71,517.81 383.19,518.18 383.67,518.52 384.14,518.84 384.62,519.15 385.10,519.45 385.58,519.73 386.05,520.01 386.53,520.28 387.01,520.55 387.49,520.81 387.97,521.05 388.44,521.29 388.92,521.52 389.40,521.73 389.88,521.93 390.36,522.11 390.83,522.28 391.31,522.42 391.79,522.55 392.27,522.66 392.74,522.75 393.22,522.82 393.70,522.88 394.18,522.92 394.66,522.96 395.13,522.98 395.61,522.99 396.09,522.99 396.57,522.99 397.04,522.98 397.52,522.96 398.00,522.95 398.48,522.94 398.96,522.92 399.43,522.91 399.91,522.90 400.39,522.89 400.87,522.88 401.35,522.88" fill="none" stroke="rgb(96,48,14)" stroke-width="1.0" stroke-linejoin="round" stroke-linecap="round"/>
<rect x="301.50" y="413.40" width="104.60" height="109.85" fill="none" stroke="#000" stroke-opacity="0.88" stroke-width="0.6"/>
<path d="M306.25 523.25v2.2M327.87 523.25v2.2M349.48 523.25v2.2M371.09 523.25v2.2M392.70 523.25v2.2M301.50 523.25h-2.2M301.50 505.96h-2.2M301.50 488.67h-2.2M301.50 471.37h-2.2M301.50 454.08h-2.2M301.50 436.79h-2.2M301.50 419.50h-2.2" stroke="#000" stroke-opacity="0.88" stroke-width="0.6" fill="none"/>
<g font-family="'DejaVu Sans','Liberation Sans',sans-serif" font-weight="bold" font-size="5.4" fill="#000" stroke="#000" stroke-width="0">
<text x="306.25" y="531.80" text-anchor="middle" transform="rotate(0.03 306.25 531.80)">1.00</text>
<text x="327.87" y="531.80" text-anchor="middle" transform="rotate(0.03 327.87 531.80)">1.25</text>
<text x="349.48" y="531.80" text-anchor="middle" transform="rotate(0.03 349.48 531.80)">1.50</text>
<text x="371.09" y="531.80" text-anchor="middle" transform="rotate(0.03 371.09 531.80)">1.75</text>
<text x="392.70" y="531.80" text-anchor="middle" transform="rotate(0.03 392.70 531.80)">2.00</text>
<text x="297.40" y="525.60" text-anchor="end" transform="rotate(0.03 297.40 525.60)">0</text>
<text x="297.40" y="508.31" text-anchor="end" transform="rotate(0.03 297.40 508.31)">20</text>
<text x="297.40" y="491.02" text-anchor="end" transform="rotate(0.03 297.40 491.02)">40</text>
<text x="297.40" y="473.72" text-anchor="end" transform="rotate(0.03 297.40 473.72)">60</text>
<text x="297.40" y="456.43" text-anchor="end" transform="rotate(0.03 297.40 456.43)">80</text>
<text x="297.40" y="439.14" text-anchor="end" transform="rotate(0.03 297.40 439.14)">100</text>
<text x="297.40" y="421.85" text-anchor="end" transform="rotate(0.03 297.40 421.85)">120</text>
</g>
<g font-family="'DejaVu Sans','Liberation Sans',sans-serif" font-weight="bold" font-size="6.72" fill="#000" stroke="#000" stroke-width="0.12">
<text x="353.80" y="540.65" text-anchor="middle" transform="rotate(0.03 353.80 540.65)">CL ( R )</text>
<text transform="translate(281.70,468.82) rotate(-89.97)" text-anchor="middle">Density</text>
</g>
</g>
<g>
<path d="M443.40 523.25H448.16V521.18H443.40ZM448.16 523.25H452.91V519.11H448.16ZM457.67 523.25H462.42V510.82H457.67ZM467.18 523.25H471.93V488.03H467.18ZM471.93 523.25H476.69V471.46H471.93ZM481.44 523.25H486.20V427.95H481.44ZM490.95 523.25H495.70V420.70H490.95ZM495.70 523.25H500.46V418.63H495.70ZM505.21 523.25H509.97V456.96H505.21ZM514.72 523.25H519.48V485.96H514.72ZM519.48 523.25H524.23V513.93H519.48ZM528.99 523.25H533.74V521.18H528.99ZM533.74 523.25H538.50V520.14H533.74Z" fill="rgb(102,178,255)" fill-opacity="0.5" stroke="#000" stroke-width="0.55" stroke-opacity="0.8"/>
<polyline points="443.40,522.00 443.88,521.92 444.36,521.85 444.84,521.77 445.32,521.70 445.79,521.61 446.27,521.53 446.75,521.44 447.23,521.34 447.71,521.24 448.18,521.13 448.66,521.02 449.14,520.89 449.62,520.76 450.09,520.62 450.57,520.46 451.05,520.29 451.53,520.11 452.01,519.91 452.48,519.70 452.96,519.46 453.44,519.21 453.92,518.94 454.39,518.65 454.87,518.33 455.35,518.00 455.83,517.64 456.31,517.27 456.78,516.87 457.26,516.46 457.74,516.02 458.22,515.56 458.70,515.07 459.17,514.56 459.65,514.01 460.13,513.44 460.61,512.82 461.08,512.18 461.56,511.50 462.04,510.78 462.52,510.04 463.00,509.27 463.47,508.48 463.95,507.68 464.43,506.88 464.91,506.08 465.39,505.30 465.86,504.54 466.34,503.80 466.82,503.08 467.30,502.39 467.77,501.72 468.25,501.07 468.73,500.42 469.21,499.77 469.69,499.12 470.16,498.45 470.64,497.75 471.12,497.02 471.60,496.27 472.08,495.48 472.55,494.65 473.03,493.79 473.51,492.90 473.99,491.98 474.46,491.02 474.94,490.02 475.42,488.99 475.90,487.90 476.38,486.77 476.85,485.58 477.33,484.33 477.81,483.03 478.29,481.68 478.76,480.29 479.24,478.87 479.72,477.45 480.20,476.03 480.68,474.65 481.15,473.33 481.63,472.10 482.11,470.95 482.59,469.92 483.07,469.01 483.54,468.20 484.02,467.51 484.50,466.91 484.98,466.38 485.45,465.92 485.93,465.50 486.41,465.10 486.89,464.71 487.37,464.33 487.84,463.95 488.32,463.58 488.80,463.22 489.28,462.88 489.76,462.57 490.23,462.31 490.71,462.10 491.19,461.94 491.67,461.83 492.14,461.77 492.62,461.75 493.10,461.76 493.58,461.79 494.06,461.82 494.53,461.86 495.01,461.91 495.49,461.96 495.97,462.03 496.45,462.13 496.92,462.28 497.40,462.51 497.88,462.82 498.36,463.25 498.83,463.80 499.31,464.47 499.79,465.28 500.27,466.21 500.75,467.24 501.22,468.37 501.70,469.57 502.18,470.81 502.66,472.08 503.14,473.35 503.61,474.61 504.09,475.85 504.57,477.07 505.05,478.27 505.52,479.44 506.00,480.60 506.48,481.75 506.96,482.90 507.44,484.06 507.91,485.23 508.39,486.40 508.87,487.58 509.35,488.75 509.82,489.92 510.30,491.08 510.78,492.21 511.26,493.32 511.74,494.40 512.21,495.46 512.69,496.48 513.17,497.48 513.65,498.47 514.13,499.45 514.60,500.43 515.08,501.41 515.56,502.41 516.04,503.41 516.51,504.43 516.99,505.45 517.47,506.48 517.95,507.50 518.43,508.51 518.90,509.50 519.38,510.46 519.86,511.38 520.34,512.25 520.82,513.08 521.29,513.86 521.77,514.58 522.25,515.25 522.73,515.88 523.20,516.45 523.68,516.99 524.16,517.48 524.64,517.94 525.12,518.36 525.59,518.75 526.07,519.11 526.55,519.45 527.03,519.76 527.51,520.04 527.98,520.29 528.46,520.52 528.94,520.73 529.42,520.91 529.89,521.06 530.37,521.20 530.85,521.31 531.33,521.41 531.81,521.48 532.28,521.54 532.76,521.58 533.24,521.61 533.72,521.63 534.19,521.65 534.67,521.65 535.15,521.65 535.63,521.65 536.11,521.66 536.58,521.66 537.06,521.67 537.54,521.68 538.02,521.71 538.50,521.74" fill="none" stroke="rgb(102,178,255)" stroke-width="1.0" stroke-linejoin="round" stroke-linecap="round"/>
<rect x="438.65" y="413.40" width="104.60" height="109.85" fill="none" stroke="#000" stroke-opacity="0.88" stroke-width="0.6"/>
<path d="M447.37 523.25v2.2M467.18 523.25v2.2M486.99 523.25v2.2M506.80 523.25v2.2M526.61 523.25v2.2M438.65 523.25h-2.2M438.65 502.53h-2.2M438.65 481.82h-2.2M438.65 461.10h-2.2M438.65 440.38h-2.2M438.65 419.67h-2.2" stroke="#000" stroke-opacity="0.88" stroke-width="0.6" fill="none"/>
<g font-family="'DejaVu Sans','Liberation Sans',sans-serif" font-weight="bold" font-size="5.4" fill="#000" stroke="#000" stroke-width="0">
<text x="447.37" y="531.80" text-anchor="middle" transform="rotate(0.03 447.37 531.80)">0.75</text>
<text x="467.18" y="531.80" text-anchor="middle" transform="rotate(0.03 467.18 531.80)">1.00</text>
<text x="486.99" y="531.80" text-anchor="middle" transform="rotate(0.03 486.99 531.80)">1.25</text>
<text x="506.80" y="531.80" text-anchor="middle" transform="rotate(0.03 506.80 531.80)">1.50</text>
<text x="526.61" y="531.80" text-anchor="middle" transform="rotate(0.03 526.61 531.80)">1.75</text>
<text x="434.55" y="525.60" text-anchor="end" transform="rotate(0.03 434.55 525.60)">0</text>
<text x="434.55" y="504.88" text-anchor="end" transform="rotate(0.03 434.55 504.88)">20</text>
<text x="434.55" y="484.17" text-anchor="end" transform="rotate(0.03 434.55 484.17)">40</text>
<text x="434.55" y="463.45" text-anchor="end" transform="rotate(0.03 434.55 463.45)">60</text>
<text x="434.55" y="442.73" text-anchor="end" transform="rotate(0.03 434.55 442.73)">80</text>
<text x="434.55" y="422.02" text-anchor="end" transform="rotate(0.03 434.55 422.02)">100</text>
</g>
<g font-family="'DejaVu Sans','Liberation Sans',sans-serif" font-weight="bold" font-size="6.72" fill="#000" stroke="#000" stroke-width="0.12">
<text x="490.95" y="540.65" text-anchor="middle" transform="rotate(0.03 490.95 540.65)">CW (L)</text>
<text transform="translate(418.85,468.82) rotate(-89.97)" text-anchor="middle">Density</text>
</g>
</g>
<g>
<path d="M580.95 523.25H585.71V518.45H580.95ZM590.46 523.25H595.22V508.85H590.46ZM599.97 523.25H604.73V484.86H599.97ZM609.48 523.25H614.24V461.82H609.48ZM614.24 523.25H618.99V432.07H614.24ZM628.50 523.25H633.25V418.63H628.50ZM633.25 523.25H638.01V438.79H633.25ZM647.52 523.25H652.27V470.46H647.52ZM657.03 523.25H661.78V498.29H657.03ZM661.78 523.25H666.54V516.53H661.78ZM671.29 523.25H676.05V519.41H671.29Z" fill="rgb(255,102,153)" fill-opacity="0.5" stroke="#000" stroke-width="0.55" stroke-opacity="0.8"/>
<polyline points="580.95,520.50 581.43,520.33 581.91,520.14 582.39,519.95 582.87,519.75 583.34,519.54 583.82,519.32 584.30,519.09 584.78,518.84 585.26,518.58 585.73,518.31 586.21,518.03 586.69,517.73 587.17,517.43 587.64,517.11 588.12,516.79 588.60,516.45 589.08,516.10 589.56,515.75 590.03,515.37 590.51,514.98 590.99,514.58 591.47,514.15 591.94,513.71 592.42,513.24 592.90,512.75 593.38,512.23 593.86,511.68 594.33,511.12 594.81,510.53 595.29,509.93 595.77,509.31 596.25,508.69 596.72,508.06 597.20,507.43 597.68,506.81 598.16,506.20 598.63,505.60 599.11,505.01 599.59,504.44 600.07,503.89 600.55,503.34 601.02,502.80 601.50,502.27 601.98,501.73 602.46,501.19 602.94,500.63 603.41,500.06 603.89,499.47 604.37,498.86 604.85,498.24 605.32,497.59 605.80,496.94 606.28,496.27 606.76,495.60 607.24,494.93 607.71,494.27 608.19,493.61 608.67,492.97 609.15,492.34 609.63,491.72 610.10,491.10 610.58,490.49 611.06,489.88 611.54,489.26 612.01,488.63 612.49,487.98 612.97,487.30 613.45,486.60 613.93,485.88 614.40,485.14 614.88,484.38 615.36,483.61 615.84,482.85 616.31,482.09 616.79,481.36 617.27,480.66 617.75,480.00 618.23,479.39 618.70,478.83 619.18,478.32 619.66,477.86 620.14,477.45 620.62,477.08 621.09,476.74 621.57,476.41 622.05,476.10 622.53,475.80 623.00,475.49 623.48,475.17 623.96,474.85 624.44,474.52 624.92,474.20 625.39,473.89 625.87,473.60 626.35,473.34 626.83,473.14 627.31,472.99 627.78,472.91 628.26,472.91 628.74,472.99 629.22,473.15 629.69,473.38 630.17,473.69 630.65,474.06 631.13,474.48 631.61,474.93 632.08,475.41 632.56,475.91 633.04,476.40 633.52,476.90 634.00,477.38 634.47,477.85 634.95,478.32 635.43,478.78 635.91,479.25 636.38,479.73 636.86,480.23 637.34,480.76 637.82,481.33 638.30,481.94 638.77,482.59 639.25,483.29 639.73,484.03 640.21,484.80 640.69,485.60 641.16,486.43 641.64,487.26 642.12,488.09 642.60,488.92 643.07,489.73 643.55,490.52 644.03,491.29 644.51,492.03 644.99,492.76 645.46,493.47 645.94,494.16 646.42,494.85 646.90,495.54 647.37,496.23 647.85,496.93 648.33,497.64 648.81,498.37 649.29,499.10 649.76,499.85 650.24,500.61 650.72,501.38 651.20,502.14 651.68,502.89 652.15,503.64 652.63,504.36 653.11,505.07 653.59,505.75 654.06,506.41 654.54,507.05 655.02,507.66 655.50,508.25 655.98,508.82 656.45,509.38 656.93,509.93 657.41,510.47 657.89,511.00 658.37,511.53 658.84,512.05 659.32,512.58 659.80,513.10 660.28,513.61 660.75,514.12 661.23,514.62 661.71,515.10 662.19,515.57 662.67,516.02 663.14,516.45 663.62,516.86 664.10,517.24 664.58,517.60 665.06,517.94 665.53,518.24 666.01,518.53 666.49,518.79 666.97,519.04 667.44,519.26 667.92,519.46 668.40,519.65 668.88,519.82 669.36,519.98 669.83,520.13 670.31,520.26 670.79,520.39 671.27,520.50 671.74,520.61 672.22,520.71 672.70,520.80 673.18,520.89 673.66,520.98 674.13,521.06 674.61,521.14 675.09,521.22 675.57,521.30 676.05,521.38" fill="none" stroke="rgb(255,102,153)" stroke-width="1.0" stroke-linejoin="round" stroke-linecap="round"/>
<rect x="576.20" y="413.40" width="104.60" height="109.85" fill="none" stroke="#000" stroke-opacity="0.88" stroke-width="0.6"/>
<path d="M580.95 523.25v2.2M599.97 523.25v2.2M618.99 523.25v2.2M638.01 523.25v2.2M657.03 523.25v2.2M676.05 523.25v2.2M576.20 523.25h-2.2M576.20 504.05h-2.2M576.20 484.86h-2.2M576.20 465.66h-2.2M576.20 446.47h-2.2M576.20 427.27h-2.2" stroke="#000" stroke-opacity="0.88" stroke-width="0.6" fill="none"/>
<g font-family="'DejaVu Sans','Liberation Sans',sans-serif" font-weight="bold" font-size="5.4" fill="#000" stroke="#000" stroke-width="0">
<text x="580.95" y="531.80" text-anchor="middle" transform="rotate(0.03 580.95 531.80)">0.8</text>
<text x="599.97" y="531.80" text-anchor="middle" transform="rotate(0.03 599.97 531.80)">1.0</text>
<text x="618.99" y="531.80" text-anchor="middle" transform="rotate(0.03 618.99 531.80)">1.2</text>
<text x="638.01" y="531.80" text-anchor="middle" transform="rotate(0.03 638.01 531.80)">1.4</text>
<text x="657.03" y="531.80" text-anchor="middle" transform="rotate(0.03 657.03 531.80)">1.6</text>
<text x="676.05" y="531.80" text-anchor="middle" transform="rotate(0.03 676.05 531.80)">1.8</text>
<text x="572.10" y="525.60" text-anchor="end" transform="rotate(0.03 572.10 525.60)">0</text>
<text x="572.10" y="506.40" text-anchor="end" transform="rotate(0.03 572.10 506.40)">20</text>
<text x="572.10" y="487.21" text-anchor="end" transform="rotate(0.03 572.10 487.21)">40</text>
<text x="572.10" y="468.01" text-anchor="end" transform="rotate(0.03 572.10 468.01)">60</text>
<text x="572.10" y="448.82" text-anchor="end" transform="rotate(0.03 572.10 448.82)">80</text>
<text x="572.10" y="429.62" text-anchor="end" transform="rotate(0.03 572.10 429.62)">100</text>
</g>
<g font-family="'DejaVu Sans','Liberation Sans',sans-serif" font-weight="bold" font-size="6.72" fill="#000" stroke="#000" stroke-width="0.12">
<text x="628.50" y="540.65" text-anchor="middle" transform="rotate(0.03 628.50 540.65)">CW ( R )</text>
<text transform="translate(556.40,468.82) rotate(-89.97)" text-anchor="middle">Density</text>
</g>
</g>
<g>
<path d="M31.40 660.35H36.16V659.49H31.40ZM78.95 660.35H83.70V650.87H78.95ZM83.70 660.35H88.46V638.81H83.70ZM88.46 660.35H93.21V562.97H88.46ZM93.21 660.35H97.97V570.73H93.21ZM97.97 660.35H102.72V560.39H97.97ZM102.72 660.35H107.48V608.65H102.72ZM107.48 660.35H112.23V617.26H107.48ZM112.23 660.35H116.99V648.29H112.23ZM116.99 660.35H121.74V652.59H116.99ZM121.74 660.35H126.50V656.04H121.74Z" fill="rgb(233,116,81)" fill-opacity="0.5" stroke="#000" stroke-width="0.55" stroke-opacity="0.8"/>
<polyline points="31.40,659.70 31.88,659.72 32.36,659.75 32.84,659.80 33.32,659.87 33.79,659.94 34.27,660.01 34.75,660.08 35.23,660.15 35.71,660.20 36.18,660.24 36.66,660.28 37.14,660.30 37.62,660.32 38.09,660.33 38.57,660.34 39.05,660.34 39.53,660.35 40.01,660.35 40.48,660.35 40.96,660.35 41.44,660.35 41.92,660.35 42.39,660.35 42.87,660.35 43.35,660.35 43.83,660.35 44.31,660.35 44.78,660.35 45.26,660.35 45.74,660.35 46.22,660.35 46.70,660.35 47.17,660.35 47.65,660.35 48.13,660.35 48.61,660.35 49.08,660.35 49.56,660.35 50.04,660.35 50.52,660.35 51.00,660.35 51.47,660.35 51.95,660.35 52.43,660.35 52.91,660.35 53.39,660.35 53.86,660.35 54.34,660.35 54.82,660.35 55.30,660.35 55.77,660.35 56.25,660.35 56.73,660.35 57.21,660.35 57.69,660.35 58.16,660.35 58.64,660.35 59.12,660.35 59.60,660.35 60.08,660.35 60.55,660.35 61.03,660.35 61.51,660.35 61.99,660.35 62.46,660.35 62.94,660.35 63.42,660.35 63.90,660.35 64.38,660.35 64.85,660.35 65.33,660.35 65.81,660.35 66.29,660.35 66.76,660.35 67.24,660.35 67.72,660.35 68.20,660.35 68.68,660.35 69.15,660.35 69.63,660.35 70.11,660.35 70.59,660.35 71.07,660.35 71.54,660.34 72.02,660.33 72.50,660.32 72.98,660.29 73.45,660.25 73.93,660.19 74.41,660.09 74.89,659.95 75.37,659.75 75.84,659.48 76.32,659.11 76.80,658.65 77.28,658.07 77.76,657.37 78.23,656.56 78.71,655.62 79.19,654.58 79.67,653.44 80.14,652.21 80.62,650.91 81.10,649.52 81.58,648.06 82.06,646.50 82.53,644.83 83.01,643.03 83.49,641.05 83.97,638.88 84.45,636.47 84.92,633.80 85.40,630.86 85.88,627.65 86.36,624.18 86.83,620.48 87.31,616.60 87.79,612.59 88.27,608.52 88.75,604.45 89.22,600.42 89.70,596.50 90.18,592.71 90.66,589.09 91.14,585.65 91.61,582.39 92.09,579.32 92.57,576.44 93.05,573.72 93.52,571.17 94.00,568.77 94.48,566.51 94.96,564.39 95.44,562.41 95.91,560.60 96.39,558.99 96.87,557.62 97.35,556.57 97.82,555.91 98.30,555.73 98.78,556.10 99.26,557.09 99.74,558.75 100.21,561.07 100.69,564.03 101.17,567.56 101.65,571.57 102.13,575.93 102.60,580.50 103.08,585.15 103.56,589.74 104.04,594.18 104.51,598.38 104.99,602.30 105.47,605.92 105.95,609.24 106.43,612.29 106.90,615.10 107.38,617.71 107.86,620.15 108.34,622.44 108.82,624.63 109.29,626.72 109.77,628.74 110.25,630.68 110.73,632.55 111.20,634.35 111.68,636.08 112.16,637.74 112.64,639.31 113.12,640.79 113.59,642.17 114.07,643.44 114.55,644.62 115.03,645.68 115.51,646.65 115.98,647.53 116.46,648.32 116.94,649.05 117.42,649.72 117.89,650.34 118.37,650.93 118.85,651.50 119.33,652.05 119.81,652.59 120.28,653.12 120.76,653.64 121.24,654.14 121.72,654.63 122.19,655.10 122.67,655.56 123.15,655.99 123.63,656.41 124.11,656.80 124.58,657.18 125.06,657.54 125.54,657.88 126.02,658.21 126.50,658.51" fill="none" stroke="rgb(233,116,81)" stroke-width="1.0" stroke-linejoin="round" stroke-linecap="round"/>
<rect x="26.65" y="550.50" width="104.60" height="109.85" fill="none" stroke="#000" stroke-opacity="0.88" stroke-width="0.6"/>
<path d="M35.63 660.35v2.2M56.76 660.35v2.2M77.89 660.35v2.2M99.02 660.35v2.2M120.16 660.35v2.2M26.65 660.35h-2.2M26.65 643.12h-2.2M26.65 625.88h-2.2M26.65 608.65h-2.2M26.65 591.41h-2.2M26.65 574.18h-2.2M26.65 556.94h-2.2" stroke="#000" stroke-opacity="0.88" stroke-width="0.6" fill="none"/>
<g font-family="'DejaVu Sans','Liberation Sans',sans-serif" font-weight="bold" font-size="5.4" fill="#000" stroke="#000" stroke-width="0">
<text x="35.63" y="668.90" text-anchor="middle" transform="rotate(0.03 35.63 668.90)">2</text>
<text x="56.76" y="668.90" text-anchor="middle" transform="rotate(0.03 56.76 668.90)">3</text>
<text x="77.89" y="668.90" text-anchor="middle" transform="rotate(0.03 77.89 668.90)">4</text>
<text x="99.02" y="668.90" text-anchor="middle" transform="rotate(0.03 99.02 668.90)">5</text>
<text x="120.16" y="668.90" text-anchor="middle" transform="rotate(0.03 120.16 668.90)">6</text>
<text x="22.55" y="662.70" text-anchor="end" transform="rotate(0.03 22.55 662.70)">0</text>
<text x="22.55" y="645.47" text-anchor="end" transform="rotate(0.03 22.55 645.47)">20</text>
<text x="22.55" y="628.23" text-anchor="end" transform="rotate(0.03 22.55 628.23)">40</text>
<text x="22.55" y="611.00" text-anchor="end" transform="rotate(0.03 22.55 611.00)">60</text>
<text x="22.55" y="593.76" text-anchor="end" transform="rotate(0.03 22.55 593.76)">80</text>
<text x="22.55" y="576.53" text-anchor="end" transform="rotate(0.03 22.55 576.53)">100</text>
<text x="22.55" y="559.29" text-anchor="end" transform="rotate(0.03 22.55 559.29)">120</text>
</g>
<g font-family="'DejaVu Sans','Liberation Sans',sans-serif" font-weight="bold" font-size="6.72" fill="#000" stroke="#000" stroke-width="0.12">
<text x="78.95" y="677.75" text-anchor="middle" transform="rotate(0.03 78.95 677.75)">NASAL HEIGHT</text>
<text transform="translate(6.85,605.92) rotate(-89.97)" text-anchor="middle">Density</text>
</g>
</g>
<g>
<path d="M168.87 660.35H173.63V655.25H168.87ZM173.63 660.35H178.38V657.80H173.63ZM178.38 660.35H183.14V659.07H178.38ZM183.14 660.35H187.89V647.59H183.14ZM187.89 660.35H192.65V646.32H187.89ZM192.65 660.35H197.40V619.52H192.65ZM197.40 660.35H202.16V555.73H197.40ZM202.16 660.35H206.91V586.35H202.16ZM206.91 660.35H211.67V581.25H206.91ZM211.67 660.35H216.42V572.32H211.67ZM216.42 660.35H221.17V588.90H216.42ZM221.17 660.35H225.93V594.01H221.17ZM225.93 660.35H230.68V627.18H225.93ZM230.68 660.35H235.44V618.25H230.68ZM235.44 660.35H240.19V651.42H235.44ZM240.19 660.35H244.95V659.07H240.19ZM244.95 660.35H249.70V659.71H244.95ZM259.21 660.35H263.97V659.07H259.21Z" fill="rgb(14,14,118)" fill-opacity="0.5" stroke="#000" stroke-width="0.55" stroke-opacity="0.8"/>
<polyline points="168.87,658.34 169.35,658.20 169.83,658.06 170.31,657.93 170.79,657.82 171.26,657.71 171.74,657.62 172.22,657.55 172.70,657.49 173.18,657.44 173.65,657.41 174.13,657.38 174.61,657.36 175.09,657.35 175.56,657.33 176.04,657.31 176.52,657.27 177.00,657.22 177.48,657.14 177.95,657.02 178.43,656.86 178.91,656.65 179.39,656.38 179.86,656.04 180.34,655.64 180.82,655.17 181.30,654.64 181.78,654.03 182.25,653.36 182.73,652.63 183.21,651.85 183.69,651.02 184.17,650.14 184.64,649.23 185.12,648.27 185.60,647.26 186.08,646.21 186.55,645.09 187.03,643.91 187.51,642.65 187.99,641.31 188.47,639.87 188.94,638.34 189.42,636.71 189.90,634.98 190.38,633.16 190.86,631.27 191.33,629.33 191.81,627.35 192.29,625.36 192.77,623.37 193.24,621.41 193.72,619.49 194.20,617.63 194.68,615.83 195.16,614.10 195.63,612.43 196.11,610.82 196.59,609.26 197.07,607.75 197.55,606.26 198.02,604.79 198.50,603.32 198.98,601.85 199.46,600.36 199.93,598.85 200.41,597.32 200.89,595.77 201.37,594.19 201.85,592.59 202.32,590.98 202.80,589.37 203.28,587.76 203.76,586.16 204.23,584.59 204.71,583.05 205.19,581.56 205.67,580.11 206.15,578.73 206.62,577.40 207.10,576.14 207.58,574.95 208.06,573.83 208.54,572.77 209.01,571.79 209.49,570.89 209.97,570.07 210.45,569.33 210.92,568.70 211.40,568.17 211.88,567.75 212.36,567.47 212.84,567.32 213.31,567.32 213.79,567.48 214.27,567.79 214.75,568.25 215.23,568.87 215.70,569.63 216.18,570.53 216.66,571.55 217.14,572.69 217.61,573.93 218.09,575.27 218.57,576.70 219.05,578.22 219.53,579.83 220.00,581.53 220.48,583.32 220.96,585.23 221.44,587.23 221.92,589.35 222.39,591.57 222.87,593.90 223.35,596.31 223.83,598.79 224.30,601.32 224.78,603.88 225.26,606.43 225.74,608.96 226.22,611.43 226.69,613.83 227.17,616.13 227.65,618.32 228.13,620.40 228.61,622.35 229.08,624.19 229.56,625.92 230.04,627.54 230.52,629.07 230.99,630.52 231.47,631.90 231.95,633.22 232.43,634.49 232.91,635.72 233.38,636.92 233.86,638.09 234.34,639.24 234.82,640.36 235.29,641.47 235.77,642.56 236.25,643.63 236.73,644.68 237.21,645.72 237.68,646.74 238.16,647.73 238.64,648.71 239.12,649.65 239.60,650.57 240.07,651.46 240.55,652.31 241.03,653.11 241.51,653.88 241.98,654.60 242.46,655.27 242.94,655.88 243.42,656.45 243.90,656.95 244.37,657.41 244.85,657.81 245.33,658.17 245.81,658.48 246.29,658.75 246.76,658.98 247.24,659.18 247.72,659.35 248.20,659.50 248.67,659.63 249.15,659.74 249.63,659.83 250.11,659.91 250.59,659.98 251.06,660.04 251.54,660.10 252.02,660.14 252.50,660.18 252.98,660.21 253.45,660.23 253.93,660.25 254.41,660.26 254.89,660.27 255.36,660.27 255.84,660.26 256.32,660.25 256.80,660.23 257.28,660.21 257.75,660.18 258.23,660.15 258.71,660.11 259.19,660.06 259.66,660.01 260.14,659.97 260.62,659.92 261.10,659.87 261.58,659.82 262.05,659.78 262.53,659.75 263.01,659.72 263.49,659.71 263.97,659.70" fill="none" stroke="rgb(14,14,118)" stroke-width="1.0" stroke-linejoin="round" stroke-linecap="round"/>
<rect x="164.12" y="550.50" width="104.60" height="109.85" fill="none" stroke="#000" stroke-opacity="0.88" stroke-width="0.6"/>
<path d="M173.01 660.35v2.2M193.68 660.35v2.2M214.35 660.35v2.2M235.02 660.35v2.2M255.70 660.35v2.2M164.12 660.35h-2.2M164.12 647.59h-2.2M164.12 634.83h-2.2M164.12 622.07h-2.2M164.12 609.32h-2.2M164.12 596.56h-2.2M164.12 583.80h-2.2M164.12 571.04h-2.2M164.12 558.28h-2.2" stroke="#000" stroke-opacity="0.88" stroke-width="0.6" fill="none"/>
<g font-family="'DejaVu Sans','Liberation Sans',sans-serif" font-weight="bold" font-size="5.4" fill="#000" stroke="#000" stroke-width="0">
<text x="173.01" y="668.90" text-anchor="middle" transform="rotate(0.03 173.01 668.90)">2.5</text>
<text x="193.68" y="668.90" text-anchor="middle" transform="rotate(0.03 193.68 668.90)">3.0</text>
<text x="214.35" y="668.90" text-anchor="middle" transform="rotate(0.03 214.35 668.90)">3.5</text>
<text x="235.02" y="668.90" text-anchor="middle" transform="rotate(0.03 235.02 668.90)">4.0</text>
<text x="255.70" y="668.90" text-anchor="middle" transform="rotate(0.03 255.70 668.90)">4.5</text>
<text x="160.02" y="662.70" text-anchor="end" transform="rotate(0.03 160.02 662.70)">0</text>
<text x="160.02" y="649.94" text-anchor="end" transform="rotate(0.03 160.02 649.94)">10</text>
<text x="160.02" y="637.18" text-anchor="end" transform="rotate(0.03 160.02 637.18)">20</text>
<text x="160.02" y="624.42" text-anchor="end" transform="rotate(0.03 160.02 624.42)">30</text>
<text x="160.02" y="611.67" text-anchor="end" transform="rotate(0.03 160.02 611.67)">40</text>
<text x="160.02" y="598.91" text-anchor="end" transform="rotate(0.03 160.02 598.91)">50</text>
<text x="160.02" y="586.15" text-anchor="end" transform="rotate(0.03 160.02 586.15)">60</text>
<text x="160.02" y="573.39" text-anchor="end" transform="rotate(0.03 160.02 573.39)">70</text>
<text x="160.02" y="560.63" text-anchor="end" transform="rotate(0.03 160.02 560.63)">80</text>
</g>
<g font-family="'DejaVu Sans','Liberation Sans',sans-serif" font-weight="bold" font-size="6.72" fill="#000" stroke="#000" stroke-width="0.12">
<text x="216.42" y="677.75" text-anchor="middle" transform="rotate(0.03 216.42 677.75)">NASAL BREADTH</text>
<text transform="translate(148.62,605.92) rotate(-89.97)" text-anchor="middle">Density</text>
</g>
</g>
<g>
<path d="M306.25 660.35H311.01V654.46H306.25ZM311.01 660.35H315.76V650.77H311.01ZM315.76 660.35H320.52V592.57H315.76ZM320.52 660.35H325.27V594.04H320.52ZM325.27 660.35H330.03V555.73H325.27ZM330.03 660.35H334.78V620.57H330.03ZM334.78 660.35H339.54V602.88H334.78ZM339.54 660.35H344.29V650.04H339.54ZM344.29 660.35H349.05V651.51H344.29ZM349.05 660.35H353.80V658.14H349.05ZM396.59 660.35H401.35V658.88H396.59Z" fill="rgb(50,50,50)" fill-opacity="0.5" stroke="#000" stroke-width="0.55" stroke-opacity="0.8"/>
<polyline points="306.25,657.38 306.73,656.87 307.21,656.30 307.69,655.67 308.17,654.96 308.64,654.15 309.12,653.23 309.60,652.18 310.08,650.96 310.56,649.57 311.03,647.96 311.51,646.13 311.99,644.07 312.47,641.77 312.94,639.26 313.42,636.55 313.90,633.69 314.38,630.74 314.86,627.74 315.33,624.74 315.81,621.77 316.29,618.85 316.77,615.97 317.24,613.11 317.72,610.24 318.20,607.31 318.68,604.30 319.16,601.19 319.63,598.02 320.11,594.81 320.59,591.66 321.07,588.67 321.55,585.93 322.02,583.56 322.50,581.64 322.98,580.22 323.46,579.32 323.93,578.90 324.41,578.92 324.89,579.29 325.37,579.94 325.85,580.77 326.32,581.74 326.80,582.78 327.28,583.88 327.76,585.03 328.24,586.25 328.71,587.53 329.19,588.91 329.67,590.39 330.15,591.97 330.62,593.64 331.10,595.39 331.58,597.19 332.06,599.01 332.54,600.84 333.01,602.66 333.49,604.47 333.97,606.26 334.45,608.04 334.93,609.82 335.40,611.62 335.88,613.46 336.36,615.34 336.84,617.29 337.31,619.30 337.79,621.38 338.27,623.53 338.75,625.73 339.23,627.97 339.70,630.22 340.18,632.47 340.66,634.68 341.14,636.83 341.61,638.89 342.09,640.83 342.57,642.63 343.05,644.29 343.53,645.81 344.00,647.17 344.48,648.39 344.96,649.49 345.44,650.47 345.92,651.34 346.39,652.12 346.87,652.82 347.35,653.45 347.83,654.02 348.30,654.54 348.78,655.00 349.26,655.43 349.74,655.82 350.22,656.19 350.69,656.53 351.17,656.87 351.65,657.19 352.13,657.52 352.61,657.83 353.08,658.15 353.56,658.45 354.04,658.74 354.52,659.02 354.99,659.27 355.47,659.49 355.95,659.69 356.43,659.85 356.91,659.98 357.38,660.09 357.86,660.17 358.34,660.23 358.82,660.27 359.30,660.30 359.77,660.32 360.25,660.33 360.73,660.34 361.21,660.34 361.68,660.35 362.16,660.35 362.64,660.35 363.12,660.35 363.60,660.35 364.07,660.35 364.55,660.35 365.03,660.35 365.51,660.35 365.99,660.35 366.46,660.35 366.94,660.35 367.42,660.35 367.90,660.35 368.37,660.35 368.85,660.35 369.33,660.35 369.81,660.35 370.29,660.35 370.76,660.35 371.24,660.35 371.72,660.35 372.20,660.35 372.67,660.35 373.15,660.35 373.63,660.35 374.11,660.35 374.59,660.35 375.06,660.35 375.54,660.35 376.02,660.35 376.50,660.35 376.98,660.35 377.45,660.35 377.93,660.35 378.41,660.35 378.89,660.35 379.36,660.35 379.84,660.35 380.32,660.35 380.80,660.35 381.28,660.35 381.75,660.35 382.23,660.35 382.71,660.35 383.19,660.35 383.67,660.35 384.14,660.35 384.62,660.35 385.10,660.35 385.58,660.35 386.05,660.35 386.53,660.35 387.01,660.35 387.49,660.35 387.97,660.35 388.44,660.35 388.92,660.35 389.40,660.35 389.88,660.34 390.36,660.34 390.83,660.33 391.31,660.33 391.79,660.31 392.27,660.29 392.74,660.27 393.22,660.24 393.70,660.20 394.18,660.15 394.66,660.09 395.13,660.02 395.61,659.95 396.09,659.88 396.57,659.80 397.04,659.72 397.52,659.66 398.00,659.60 398.48,659.55 398.96,659.52 399.43,659.50 399.91,659.50 400.39,659.51 400.87,659.54 401.35,659.59" fill="none" stroke="rgb(50,50,50)" stroke-width="1.0" stroke-linejoin="round" stroke-linecap="round"/>
<rect x="301.50" y="550.50" width="104.60" height="109.85" fill="none" stroke="#000" stroke-opacity="0.88" stroke-width="0.6"/>
<path d="M302.98 660.35v2.2M335.77 660.35v2.2M368.56 660.35v2.2M401.35 660.35v2.2M301.50 660.35h-2.2M301.50 645.61h-2.2M301.50 630.88h-2.2M301.50 616.14h-2.2M301.50 601.41h-2.2M301.50 586.67h-2.2M301.50 571.94h-2.2M301.50 557.20h-2.2" stroke="#000" stroke-opacity="0.88" stroke-width="0.6" fill="none"/>
<g font-family="'DejaVu Sans','Liberation Sans',sans-serif" font-weight="bold" font-size="5.4" fill="#000" stroke="#000" stroke-width="0">
<text x="302.98" y="668.90" text-anchor="middle" transform="rotate(0.03 302.98 668.90)">1</text>
<text x="335.77" y="668.90" text-anchor="middle" transform="rotate(0.03 335.77 668.90)">2</text>
<text x="368.56" y="668.90" text-anchor="middle" transform="rotate(0.03 368.56 668.90)">3</text>
<text x="401.35" y="668.90" text-anchor="middle" transform="rotate(0.03 401.35 668.90)">4</text>
<text x="297.40" y="662.70" text-anchor="end" transform="rotate(0.03 297.40 662.70)">0</text>
<text x="297.40" y="647.96" text-anchor="end" transform="rotate(0.03 297.40 647.96)">20</text>
<text x="297.40" y="633.23" text-anchor="end" transform="rotate(0.03 297.40 633.23)">40</text>
<text x="297.40" y="618.49" text-anchor="end" transform="rotate(0.03 297.40 618.49)">60</text>
<text x="297.40" y="603.76" text-anchor="end" transform="rotate(0.03 297.40 603.76)">80</text>
<text x="297.40" y="589.02" text-anchor="end" transform="rotate(0.03 297.40 589.02)">100</text>
<text x="297.40" y="574.29" text-anchor="end" transform="rotate(0.03 297.40 574.29)">120</text>
<text x="297.40" y="559.55" text-anchor="end" transform="rotate(0.03 297.40 559.55)">140</text>
</g>
<g font-family="'DejaVu Sans','Liberation Sans',sans-serif" font-weight="bold" font-size="6.72" fill="#000" stroke="#000" stroke-width="0.12">
<text x="353.80" y="677.75" text-anchor="middle" transform="rotate(0.03 353.80 677.75)">NASAL DEPTH</text>
<text transform="translate(281.70,605.92) rotate(-89.97)" text-anchor="middle">Density</text>
</g>
</g>
<g>
<path d="M443.40 660.35H448.16V659.38H443.40ZM448.16 660.35H452.91V659.38H448.16ZM467.18 660.35H471.93V659.38H467.18ZM486.20 660.35H490.95V658.42H486.20ZM490.95 660.35H495.70V641.98H490.95ZM495.70 660.35H500.46V614.91H495.70ZM500.46 660.35H505.21V558.85H500.46ZM505.21 660.35H509.97V569.48H505.21ZM509.97 660.35H514.72V581.08H509.97ZM514.72 660.35H519.48V570.45H514.72ZM519.48 660.35H524.23V631.35H519.48ZM524.23 660.35H528.99V638.12H524.23ZM528.99 660.35H533.74V654.55H528.99ZM533.74 660.35H538.50V656.48H533.74Z" fill="rgb(68,182,12)" fill-opacity="0.5" stroke="#000" stroke-width="0.55" stroke-opacity="0.8"/>
<polyline points="443.40,659.65 443.88,659.64 444.36,659.65 444.84,659.66 445.32,659.68 445.79,659.69 446.27,659.71 446.75,659.72 447.23,659.72 447.71,659.72 448.18,659.71 448.66,659.70 449.14,659.69 449.62,659.69 450.09,659.70 450.57,659.71 451.05,659.74 451.53,659.78 452.01,659.83 452.48,659.88 452.96,659.94 453.44,660.00 453.92,660.06 454.39,660.11 454.87,660.16 455.35,660.21 455.83,660.24 456.31,660.27 456.78,660.29 457.26,660.31 457.74,660.32 458.22,660.33 458.70,660.34 459.17,660.34 459.65,660.34 460.13,660.34 460.61,660.33 461.08,660.33 461.56,660.32 462.04,660.30 462.52,660.28 463.00,660.26 463.47,660.23 463.95,660.19 464.43,660.15 464.91,660.11 465.39,660.06 465.86,660.01 466.34,659.96 466.82,659.91 467.30,659.87 467.77,659.83 468.25,659.81 468.73,659.79 469.21,659.79 469.69,659.79 470.16,659.81 470.64,659.84 471.12,659.88 471.60,659.92 472.08,659.97 472.55,660.02 473.03,660.07 473.51,660.12 473.99,660.16 474.46,660.20 474.94,660.23 475.42,660.26 475.90,660.29 476.38,660.30 476.85,660.32 477.33,660.33 477.81,660.33 478.29,660.34 478.76,660.34 479.24,660.33 479.72,660.33 480.20,660.32 480.68,660.30 481.15,660.28 481.63,660.24 482.11,660.19 482.59,660.12 483.07,660.03 483.54,659.92 484.02,659.77 484.50,659.59 484.98,659.36 485.45,659.08 485.93,658.75 486.41,658.35 486.89,657.89 487.37,657.34 487.84,656.71 488.32,656.00 488.80,655.18 489.28,654.25 489.76,653.21 490.23,652.03 490.71,650.72 491.19,649.25 491.67,647.61 492.14,645.79 492.62,643.77 493.10,641.54 493.58,639.12 494.06,636.50 494.53,633.70 495.01,630.75 495.49,627.70 495.97,624.57 496.45,621.43 496.92,618.30 497.40,615.21 497.88,612.17 498.36,609.19 498.83,606.24 499.31,603.28 499.79,600.28 500.27,597.17 500.75,593.93 501.22,590.53 501.70,586.97 502.18,583.28 502.66,579.50 503.14,575.71 503.61,572.01 504.09,568.50 504.57,565.29 505.05,562.46 505.52,560.08 506.00,558.21 506.48,556.87 506.96,556.05 507.44,555.73 507.91,555.86 508.39,556.39 508.87,557.25 509.35,558.40 509.82,559.78 510.30,561.35 510.78,563.07 511.26,564.91 511.74,566.84 512.21,568.85 512.69,570.92 513.17,573.05 513.65,575.22 514.13,577.45 514.60,579.75 515.08,582.12 515.56,584.58 516.04,587.14 516.51,589.80 516.99,592.58 517.47,595.47 517.95,598.45 518.43,601.50 518.90,604.60 519.38,607.72 519.86,610.82 520.34,613.86 520.82,616.82 521.29,619.66 521.77,622.37 522.25,624.94 522.73,627.34 523.20,629.59 523.68,631.69 524.16,633.64 524.64,635.46 525.12,637.17 525.59,638.76 526.07,640.26 526.55,641.67 527.03,643.00 527.51,644.26 527.98,645.45 528.46,646.57 528.94,647.63 529.42,648.62 529.89,649.55 530.37,650.42 530.85,651.23 531.33,651.97 531.81,652.66 532.28,653.29 532.76,653.87 533.24,654.40 533.72,654.89 534.19,655.35 534.67,655.77 535.15,656.17 535.63,656.55 536.11,656.91 536.58,657.26 537.06,657.59 537.54,657.91 538.02,658.21 538.50,658.49" fill="none" stroke="rgb(68,182,12)" stroke-width="1.0" stroke-linejoin="round" stroke-linecap="round"/>
<rect x="438.65" y="550.50" width="104.60" height="109.85" fill="none" stroke="#000" stroke-opacity="0.88" stroke-width="0.6"/>
<path d="M439.44 660.35v2.2M459.25 660.35v2.2M479.06 660.35v2.2M498.87 660.35v2.2M518.68 660.35v2.2M538.50 660.35v2.2M438.65 660.35h-2.2M438.65 641.02h-2.2M438.65 621.68h-2.2M438.65 602.35h-2.2M438.65 583.01h-2.2M438.65 563.68h-2.2" stroke="#000" stroke-opacity="0.88" stroke-width="0.6" fill="none"/>
<g font-family="'DejaVu Sans','Liberation Sans',sans-serif" font-weight="bold" font-size="5.4" fill="#000" stroke="#000" stroke-width="0">
<text x="439.44" y="668.90" text-anchor="middle" transform="rotate(0.03 439.44 668.90)">1</text>
<text x="459.25" y="668.90" text-anchor="middle" transform="rotate(0.03 459.25 668.90)">2</text>
<text x="479.06" y="668.90" text-anchor="middle" transform="rotate(0.03 479.06 668.90)">3</text>
<text x="498.87" y="668.90" text-anchor="middle" transform="rotate(0.03 498.87 668.90)">4</text>
<text x="518.68" y="668.90" text-anchor="middle" transform="rotate(0.03 518.68 668.90)">5</text>
<text x="538.50" y="668.90" text-anchor="middle" transform="rotate(0.03 538.50 668.90)">6</text>
<text x="434.55" y="662.70" text-anchor="end" transform="rotate(0.03 434.55 662.70)">0</text>
<text x="434.55" y="643.37" text-anchor="end" transform="rotate(0.03 434.55 643.37)">20</text>
<text x="434.55" y="624.03" text-anchor="end" transform="rotate(0.03 434.55 624.03)">40</text>
<text x="434.55" y="604.70" text-anchor="end" transform="rotate(0.03 434.55 604.70)">60</text>
<text x="434.55" y="585.36" text-anchor="end" transform="rotate(0.03 434.55 585.36)">80</text>
<text x="434.55" y="566.03" text-anchor="end" transform="rotate(0.03 434.55 566.03)">100</text>
</g>
<g font-family="'DejaVu Sans','Liberation Sans',sans-serif" font-weight="bold" font-size="6.72" fill="#000" stroke="#000" stroke-width="0.12">
<text x="490.95" y="677.75" text-anchor="middle" transform="rotate(0.03 490.95 677.75)">TOTAL LENGTH OF NASAL BRIDGE</text>
<text transform="translate(418.85,605.92) rotate(-89.97)" text-anchor="middle">Density</text>
</g>
</g>
<g>
<path d="M580.95 660.35H585.71V655.90H580.95ZM585.71 660.35H590.46V650.33H585.71ZM590.46 660.35H595.22V645.88H590.46ZM595.22 660.35H599.97V633.64H595.22ZM599.97 660.35H604.73V621.40H599.97ZM604.73 660.35H609.48V555.73H604.73ZM614.24 660.35H618.99V579.10H614.24ZM618.99 660.35H623.75V582.44H618.99ZM623.75 660.35H628.50V596.91H623.75ZM628.50 660.35H633.25V616.94H628.50ZM633.25 660.35H638.01V608.04H633.25ZM638.01 660.35H642.76V645.88H638.01ZM647.52 660.35H652.27V645.88H647.52ZM652.27 660.35H657.03V651.45H652.27ZM657.03 660.35H661.78V655.90H657.03ZM661.78 660.35H666.54V655.90H661.78ZM666.54 660.35H671.29V659.24H666.54ZM671.29 660.35H676.05V659.24H671.29Z" fill="rgb(255,153,51)" fill-opacity="0.5" stroke="#000" stroke-width="0.55" stroke-opacity="0.8"/>
<polyline points="580.95,656.23 581.43,655.89 581.91,655.54 582.39,655.19 582.87,654.83 583.34,654.47 583.82,654.10 584.30,653.73 584.78,653.35 585.26,652.97 585.73,652.58 586.21,652.19 586.69,651.79 587.17,651.38 587.64,650.97 588.12,650.54 588.60,650.10 589.08,649.64 589.56,649.17 590.03,648.67 590.51,648.15 590.99,647.61 591.47,647.05 591.94,646.45 592.42,645.83 592.90,645.17 593.38,644.48 593.86,643.76 594.33,643.01 594.81,642.22 595.29,641.39 595.77,640.52 596.25,639.60 596.72,638.63 597.20,637.61 597.68,636.52 598.16,635.36 598.63,634.13 599.11,632.80 599.59,631.39 600.07,629.86 600.55,628.23 601.02,626.48 601.50,624.61 601.98,622.62 602.46,620.51 602.94,618.30 603.41,616.00 603.89,613.62 604.37,611.19 604.85,608.72 605.32,606.27 605.80,603.84 606.28,601.48 606.76,599.23 607.24,597.10 607.71,595.14 608.19,593.36 608.67,591.79 609.15,590.44 609.63,589.31 610.10,588.41 610.58,587.74 611.06,587.28 611.54,587.02 612.01,586.94 612.49,587.03 612.97,587.24 613.45,587.58 613.93,588.00 614.40,588.50 614.88,589.06 615.36,589.66 615.84,590.28 616.31,590.93 616.79,591.59 617.27,592.26 617.75,592.94 618.23,593.63 618.70,594.33 619.18,595.05 619.66,595.78 620.14,596.54 620.62,597.32 621.09,598.14 621.57,598.98 622.05,599.85 622.53,600.76 623.00,601.69 623.48,602.65 623.96,603.64 624.44,604.65 624.92,605.68 625.39,606.71 625.87,607.75 626.35,608.79 626.83,609.81 627.31,610.82 627.78,611.80 628.26,612.74 628.74,613.65 629.22,614.51 629.69,615.32 630.17,616.08 630.65,616.79 631.13,617.45 631.61,618.07 632.08,618.66 632.56,619.22 633.04,619.78 633.52,620.34 634.00,620.92 634.47,621.53 634.95,622.19 635.43,622.91 635.91,623.71 636.38,624.58 636.86,625.53 637.34,626.57 637.82,627.68 638.30,628.87 638.77,630.12 639.25,631.42 639.73,632.74 640.21,634.09 640.69,635.42 641.16,636.74 641.64,638.02 642.12,639.25 642.60,640.42 643.07,641.51 643.55,642.53 644.03,643.46 644.51,644.31 644.99,645.08 645.46,645.78 645.94,646.41 646.42,646.97 646.90,647.48 647.37,647.95 647.85,648.38 648.33,648.77 648.81,649.15 649.29,649.51 649.76,649.85 650.24,650.19 650.72,650.52 651.20,650.85 651.68,651.18 652.15,651.51 652.63,651.83 653.11,652.15 653.59,652.47 654.06,652.78 654.54,653.09 655.02,653.39 655.50,653.68 655.98,653.96 656.45,654.23 656.93,654.49 657.41,654.74 657.89,654.97 658.37,655.18 658.84,655.39 659.32,655.58 659.80,655.75 660.28,655.92 660.75,656.07 661.23,656.22 661.71,656.36 662.19,656.49 662.67,656.62 663.14,656.74 663.62,656.87 664.10,656.99 664.58,657.12 665.06,657.25 665.53,657.38 666.01,657.51 666.49,657.64 666.97,657.78 667.44,657.91 667.92,658.05 668.40,658.18 668.88,658.31 669.36,658.43 669.83,658.55 670.31,658.67 670.79,658.78 671.27,658.88 671.74,658.97 672.22,659.06 672.70,659.14 673.18,659.22 673.66,659.28 674.13,659.35 674.61,659.41 675.09,659.47 675.57,659.52 676.05,659.58" fill="none" stroke="rgb(255,153,51)" stroke-width="1.0" stroke-linejoin="round" stroke-linecap="round"/>
<rect x="576.20" y="550.50" width="104.60" height="109.85" fill="none" stroke="#000" stroke-opacity="0.88" stroke-width="0.6"/>
<path d="M580.95 660.35v2.2M608.92 660.35v2.2M636.89 660.35v2.2M664.86 660.35v2.2M576.20 660.35h-2.2M576.20 638.09h-2.2M576.20 615.83h-2.2M576.20 593.57h-2.2M576.20 571.31h-2.2" stroke="#000" stroke-opacity="0.88" stroke-width="0.6" fill="none"/>
<g font-family="'DejaVu Sans','Liberation Sans',sans-serif" font-weight="bold" font-size="5.4" fill="#000" stroke="#000" stroke-width="0">
<text x="580.95" y="668.90" text-anchor="middle" transform="rotate(0.03 580.95 668.90)">2.5</text>
<text x="608.92" y="668.90" text-anchor="middle" transform="rotate(0.03 608.92 668.90)">3.0</text>
<text x="636.89" y="668.90" text-anchor="middle" transform="rotate(0.03 636.89 668.90)">3.5</text>
<text x="664.86" y="668.90" text-anchor="middle" transform="rotate(0.03 664.86 668.90)">4.0</text>
<text x="572.10" y="662.70" text-anchor="end" transform="rotate(0.03 572.10 662.70)">0</text>
<text x="572.10" y="640.44" text-anchor="end" transform="rotate(0.03 572.10 640.44)">20</text>
<text x="572.10" y="618.18" text-anchor="end" transform="rotate(0.03 572.10 618.18)">40</text>
<text x="572.10" y="595.92" text-anchor="end" transform="rotate(0.03 572.10 595.92)">60</text>
<text x="572.10" y="573.66" text-anchor="end" transform="rotate(0.03 572.10 573.66)">80</text>
</g>
<g font-family="'DejaVu Sans','Liberation Sans',sans-serif" font-weight="bold" font-size="6.72" fill="#000" stroke="#000" stroke-width="0.12">
<text x="628.50" y="677.75" text-anchor="middle" transform="rotate(0.03 628.50 677.75)">ANATOMICAL WIDTH OF NOSE</text>
<text transform="translate(560.70,605.92) rotate(-89.97)" text-anchor="middle">Density</text>
</g>
</g>
</svg>
</body></html>
